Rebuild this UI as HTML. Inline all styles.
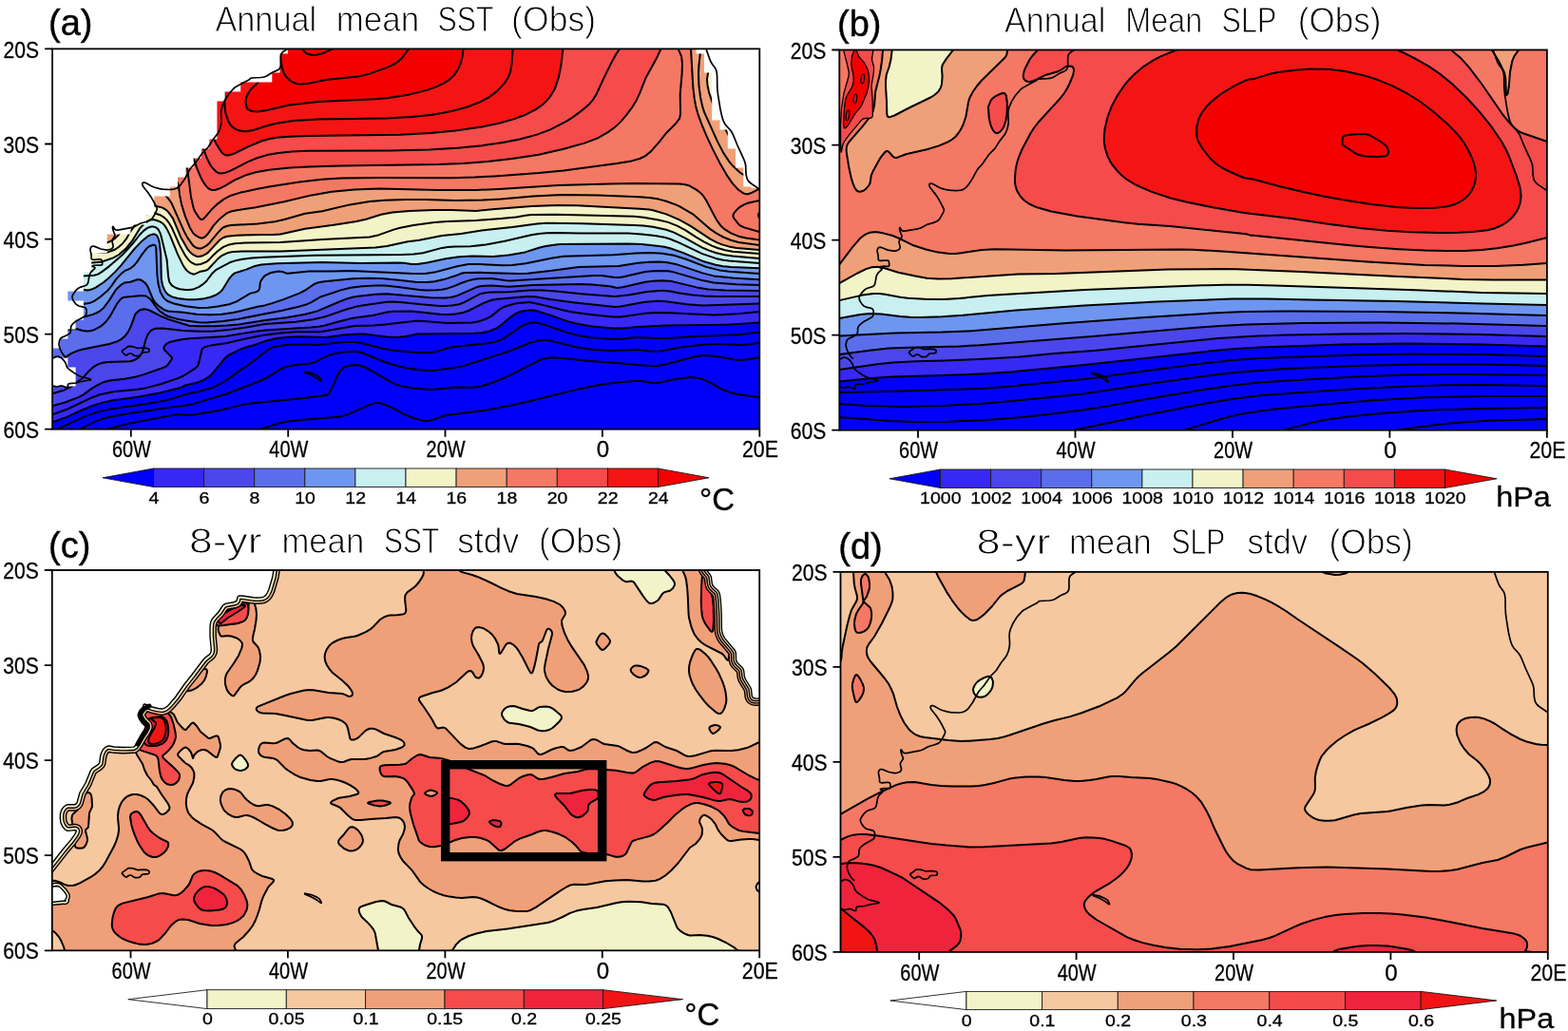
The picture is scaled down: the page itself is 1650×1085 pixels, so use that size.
<!DOCTYPE html>
<html lang="en"><head><meta charset="utf-8"><title>Figure</title>
<style>
html,body{margin:0;padding:0;background:#fff}
svg{display:block}
text{font-family:"Liberation Sans",sans-serif;fill:#000}
.tk{font-size:24.7px;stroke:#000;stroke-width:.3px}
.cb{font-size:17.3px;stroke:#000;stroke-width:.3px}
.ti{font-size:37px;stroke:#fff;stroke-width:.95px}
.pl{font-size:38px;stroke:#000;stroke-width:.4px}
.un{font-size:30px;stroke:#000;stroke-width:.3px}
.uc{font-size:33px}
.us{font-size:19px}
</style></head>
<body>
<svg width="1650" height="1085" viewBox="0 0 1650 1085">
<rect width="1650" height="1085" fill="#fff"/>
<clipPath id="ca"><rect x="55.1" y="51.4" width="744.2" height="400.3"/></clipPath>
<g clip-path="url(#ca)">
<rect x="55.1" y="51.4" width="744.2" height="400.3" fill="#f3f3c8"/>
<path fill="#0000fa" stroke="#0000fa" stroke-width="0.6" fill-rule="evenodd" d="M549.5,327.4 557.1,326.4 563.1,326.7 578.2,331.4 597.1,338.1 607.1,340.8 623.2,343.4 645.1,345.4 655.1,345.5 671.1,343.9 701.1,342.4 765.1,341.9 799.1,339.6 799.1,451.4 55.1,451.4 55.1,444.3 69.1,439.4 87.1,431.1 101.1,425.6 115.1,422 147.1,417.5 167.1,413.6 189.1,408.3 195.1,405.5 207.1,402.8 211.1,401.4 217.1,398.3 221.2,395.4 225,391.4 237.1,376.5 241.1,373.4 257.1,366 267.1,363.3 277.6,359.4 283.1,357.9 293.1,355.8 301.1,354.8 323.1,354.3 343.1,354.9 359.1,352.6 373.1,351.5 383.1,351.6 399.1,353.8 415.1,355 425.1,354.2 439.1,351.5 507.1,350.3 513.1,349.1 521.1,346.2 525.6,343.4 540.4,331.4 545.1,328.8 549.5,327.4Z"/>
<path fill="#3728f5" stroke="#3728f5" stroke-width="0.6" fill-rule="evenodd" d="M540.6,313.4 555.1,312 563.1,312.2 603.1,318.2 647.1,323 653.1,322.6 677.1,317.9 691.1,316.8 699.1,317.1 723.1,320.3 739.1,321.5 799.1,319.5 799.1,339.6 765.1,341.9 701.1,342.4 671.1,343.9 655.1,345.5 645.1,345.4 623.2,343.4 607.1,340.8 597.1,338.1 578.2,331.4 563.1,326.7 557.1,326.4 549.1,327.5 543.8,329.4 537.5,333.4 527.1,342.2 522.5,345.4 515.1,348.5 507.1,350.3 439.1,351.5 427.1,353.9 417.1,355 407.1,354.6 383.1,351.6 377.1,351.4 361.1,352.4 343.1,354.9 315.1,354.3 303.1,354.7 295.4,355.4 279.1,359 267.1,363.3 258.8,365.4 253.5,367.4 241.1,373.4 237.1,376.5 225,391.4 221.2,395.4 215.3,399.4 209.1,402.2 195.1,405.5 191.1,407.7 187.1,408.8 165.1,414.1 145.1,417.8 117.1,421.6 107.1,423.9 95.1,427.8 69.1,439.4 55.1,444.3 55.1,427.3 69.1,423.3 83.1,417.9 87.7,415.4 101.1,406.1 111.1,401.5 117.1,400.2 131.1,398.8 143.1,396.5 169.1,388.1 175,385.4 177,383.4 181.2,377.4 180.1,375.4 173.1,368.3 172.6,367.4 172.5,365.4 173.6,363.4 175.7,361.4 180.5,359.4 187.1,357.8 195.1,356.7 239.1,353.7 261.1,349.9 277.1,347.7 335.1,343.8 341.1,342.7 355.1,338.7 371.1,334.8 393.1,331.7 411.1,328 421.1,327.4 435.1,327.5 455.1,330.1 467.1,331 481.1,330.1 487.1,329 493.1,327 508,319.4 517.1,315.8 523.1,314.8 540.6,313.4Z"/>
<path fill="#4b46eb" stroke="#4b46eb" stroke-width="0.6" fill-rule="evenodd" d="M690.6,295.4 699.1,295.2 705.1,295.8 733.1,302.4 747.1,304.7 763.1,305.6 799.1,306 799.1,319.5 739.1,321.5 723.1,320.3 699.1,317.1 691.1,316.8 677.1,317.9 653.1,322.6 647.1,323 603.1,318.2 563.1,312.2 555.1,312 523.1,314.8 517.1,315.8 508,319.4 493.1,327 487.1,329 479.1,330.4 471.1,331 463.1,330.8 433.1,327.4 413.1,327.8 407.1,328.6 393.1,331.7 371.1,334.8 355.1,338.7 341.1,342.7 335.1,343.8 279.1,347.5 267.1,349 237.1,354 199.1,356.3 189.6,357.4 180.5,359.4 177.1,360.7 175.1,361.9 173.1,364.3 172.5,365.4 172.6,367.4 173.1,368.3 180.1,375.4 181.2,377.4 177,383.4 175,385.4 173.1,386.5 143.1,396.5 131.1,398.8 117.1,400.2 111.1,401.5 101.1,406.1 87.7,415.4 83.1,417.9 69.1,423.3 55.1,427.3 55.1,382.7 67.1,377.1 75.1,372 81.1,369.3 87.4,367.4 115.1,362 123.1,359.4 127,357.4 131.1,354.1 134.8,349.4 137.7,343.4 142.1,331.4 143.4,329.4 145.5,327.4 149.1,325.6 153.1,325.4 155.1,325.8 177.1,336 199.1,342.8 215.1,343.4 233.1,342.9 251.2,341.4 279.1,337.1 301.1,334.3 321.1,330.8 333.9,327.4 359.1,316.6 367.1,313.8 375.1,312 389.1,310.3 399.1,309.5 409.1,309.4 453.1,313.2 467.1,313.6 473.1,313.1 479.1,311.8 483.1,310.4 501.1,302.3 509.1,300.8 517.1,300.6 535.1,301.7 561.1,300 611.1,299 623.1,299.5 639.1,300.9 649.1,303 655.1,302.3 679.1,296.7 690.6,295.4Z"/>
<path fill="#5a6eeb" stroke="#5a6eeb" stroke-width="0.6" fill-rule="evenodd" d="M665.8,277.4 687.1,275.6 701.1,275.9 713.1,278.4 739.4,287.4 751.1,290.4 771.1,292.6 799.1,294.2 799.1,306 763.1,305.6 745.1,304.5 733.1,302.4 707.1,296.1 697.1,295.2 687.1,295.7 679.1,296.7 655.1,302.3 649.1,303 639.1,300.9 623.1,299.5 611.1,299 561.1,300 535.1,301.7 517.1,300.6 511.1,300.7 505.1,301.3 501.1,302.3 481.1,311.1 475.1,312.7 469.1,313.5 453.1,313.2 407.1,309.3 395.1,309.7 377.1,311.7 365.1,314.4 333.9,327.4 321.1,330.8 301.1,334.3 279.1,337.1 251.1,341.4 225.1,343.3 209.1,343.3 199.1,342.8 177.1,336 169.1,332.6 157.1,326.5 153.3,325.4 151.1,325.3 147.1,326.4 143.4,329.4 142.1,331.4 137.7,343.4 134.8,349.4 131.1,354.1 127,357.4 123.1,359.4 115.1,362 87.4,367.4 81.1,369.3 75.1,372 67.1,377.1 55.1,382.7 55.1,333.2 71.1,332.6 89.1,333.2 97.1,331.1 101.1,329.5 105.1,327.3 109.1,323.9 115.1,315.9 121.1,306.2 127.1,299.9 131.1,297.5 137.1,296.7 145.1,294 149.1,295 153.1,298.1 155.1,300.9 161.2,315.4 163.1,318.1 167.1,322.1 173.1,326.3 177.1,327.5 193.1,328.8 207.1,330.8 225.1,331.3 237.1,330.2 249.1,328.2 269.1,323.2 278.5,321.4 285.5,319.4 297.6,315.4 313.3,309.4 321.1,305.5 331.1,298.7 334.4,297.4 339.1,296.5 371.1,293.2 387.1,292.8 405.1,293.3 437.1,296.8 449.1,297.1 457.1,296.2 467.1,294.1 479.1,290.3 485.1,287.8 489.1,287.1 507.1,286.8 543.1,288 553.1,287.8 579.1,285.1 605.1,281.4 617.1,280.7 651.1,279.9 657.1,279.2 665.8,277.4Z"/>
<path fill="#6e96f0" stroke="#6e96f0" stroke-width="0.6" fill-rule="evenodd" d="M158,247.4 161.1,246.4 163.1,246.5 165.1,247.8 167.1,252.3 168.4,259.4 169.2,267.4 169.8,293.4 171.1,300.5 173.1,305.2 177.1,310.2 181.1,312.4 187.1,314 197.1,315.2 205.1,315.3 213.1,314.6 221.1,312.7 227.1,310.5 231.1,307.9 233.7,305.4 241.1,293.4 244.5,289.4 247.1,287.4 259.1,283.6 267.1,280.3 275.1,278.6 291.1,277.3 339.1,276 379.1,277 419.1,276.5 425.1,276.8 433.1,278 439.1,278.1 449.1,276.5 469.1,272.2 483.1,270.3 497.1,269.6 519.1,270 535.1,268.4 552.6,265.4 567.1,260.8 575.1,258.9 583.1,257.6 593.1,256.9 665.1,256.6 681.1,257.6 699.1,259.8 705.1,261.3 719.1,266.1 741.1,275.4 753.1,278.7 761.1,280.2 769.1,280.9 799.1,282.2 799.1,294.2 771.1,292.6 751.1,290.4 739.4,287.4 711.1,277.9 701.1,275.9 693.1,275.5 671.1,276.8 651.1,279.9 609.1,281.1 579.1,285.1 555.1,287.7 545.1,288 505.1,286.8 489.1,287.1 485.1,287.8 479.1,290.3 467.1,294.1 457.1,296.2 449.1,297.1 437.1,296.8 417.1,294.4 401.1,293.1 385.1,292.8 371.1,293.2 335.1,297.2 331.1,298.7 321.1,305.5 315.1,308.6 297.6,315.4 285.5,319.4 278.5,321.4 271.1,322.8 245.1,328.9 233.1,330.7 221.1,331.3 207.1,330.8 193.1,328.8 177.1,327.5 173.1,326.3 167.1,322.1 163.1,318.1 161.2,315.4 155.1,300.9 153.1,298.1 149.1,295 145.1,294 137.1,296.7 131.1,297.5 127.1,299.9 121.1,306.2 115.1,315.9 109.1,323.9 105.1,327.3 101.1,329.5 97.1,331.1 89.1,333.2 71.1,332.6 55.1,333.2 55.1,304.7 93.1,305.4 97.1,304.3 101.1,302.3 109.1,297 117.1,290.1 127.3,279.4 145.5,257.4 153.1,250.4 158,247.4Z"/>
<path fill="#c8f0f0" stroke="#c8f0f0" stroke-width="0.6" fill-rule="evenodd" d="M158.4,231.4 161.1,231.1 167.1,232.7 171.1,235 173.1,237.1 175.8,241.4 179.1,248.1 186.9,267.4 192.7,279.4 197.1,285.2 200.2,287.4 203.1,288.5 205.1,288.4 211.1,285.7 217.1,284.5 219.1,283.3 229.1,272.6 233.1,269.2 239.1,266.3 245.1,264.9 255.1,264.4 295.1,264.5 395.1,260.5 407.1,258.9 429.1,254.2 441.1,252.8 465.1,248.1 485.1,246.1 509.1,242.1 539.1,239.1 565.1,235.4 579.1,234.7 669.1,237 681.1,238 695.1,240.3 703.1,242.4 711.1,245.5 739.1,260.6 745.6,263.4 753.1,266 761.1,268 771.1,269.6 799.1,272 799.1,282.2 769.1,280.9 761.1,280.2 753.1,278.7 739.1,274.7 719.1,266.1 705.1,261.3 699.1,259.8 691.1,258.7 675.1,257.1 661.1,256.5 589.1,257.1 581.1,257.9 573.1,259.3 567.1,260.8 552.6,265.4 535.1,268.4 519.1,270 497.1,269.6 483.1,270.3 469.1,272.2 449.1,276.5 439.1,278.1 433.1,278 425.1,276.8 419.1,276.5 379.1,277 339.1,276 291.1,277.3 275.1,278.6 267.1,280.3 259.1,283.6 247.1,287.4 244.5,289.4 241.1,293.4 233.7,305.4 231.1,307.9 227.1,310.5 221.1,312.7 213.1,314.6 205.1,315.3 197.1,315.2 187.1,314 181.1,312.4 177.1,310.2 173.1,305.2 171.1,300.5 169.8,293.4 169.2,267.4 167.8,255.4 166.8,251.4 165.1,247.8 163.1,246.5 161.1,246.4 155.1,248.9 149.6,253.4 141.9,261.4 127.3,279.4 121.1,286.1 109.1,297 101.1,302.3 97.1,304.3 93.1,305.4 55.1,304.7 55.1,275.1 83.1,276.5 97.1,276.4 107.1,275.5 119.1,271.4 125.1,268 132.7,261.4 139.1,253.4 143.8,245.4 149.1,237.9 153.1,234.3 158.4,231.4Z"/>
<path fill="#f3f3c8" stroke="#f3f3c8" stroke-width="0.6" fill-rule="evenodd" d="M752,51.4 799.1,51.4 799.1,163.9 791.1,162.8 785.1,161 779.1,157.8 775.1,154.3 771.1,149.6 767.1,143.2 751.6,113.4 746.1,97.4 744.5,89.4 744,83.4 745.6,73.4 752,51.4ZM148.1,217.4 153.1,215.8 159.1,215.7 171.1,218.6 175.1,221.1 179.1,225.5 181.7,229.4 190.2,249.4 197.1,261.8 200.1,265.4 203.1,268 207.1,269.9 209.1,270.1 213.1,269.2 217.1,267.1 219.3,265.4 231.1,252.7 235.1,250 239.1,248.7 249.1,247.7 287.1,247 295.1,246.5 321.1,240.8 351.1,236.8 375.1,233 385.1,230.7 401.1,225.7 411.1,223.8 429.1,222.1 451.1,221.2 471.1,221 503.1,221.9 521.1,219.9 553.1,217.4 575.1,216.3 595.1,216 613.1,216.4 677.1,219.9 685.1,220.8 693.1,222.8 705.1,226.9 717.1,232.4 727.1,238.2 747.1,251.4 759.7,257.4 767,259.4 775.1,260.9 799.1,263 799.1,272 771.1,269.6 761.1,268 753.1,266 745.6,263.4 739.1,260.6 721.1,250.6 709.1,244.6 701.1,241.8 687.1,238.8 677.1,237.5 667.1,236.9 613.1,235.3 575.1,234.8 565.1,235.4 539.1,239.1 511.1,241.9 485.1,246.1 465.1,248.1 441.1,252.8 429.1,254.2 407.1,258.9 395.1,260.5 295.1,264.5 255.1,264.4 245.1,264.9 239.1,266.3 233.1,269.2 229.1,272.6 219.1,283.3 217.1,284.5 211.1,285.7 205.1,288.4 203.1,288.5 200.2,287.4 197.1,285.2 192.7,279.4 186.9,267.4 179.1,248.1 175.8,241.4 173.3,237.4 171.1,235 168.6,233.4 165.1,232 161.1,231.1 157.1,231.8 151.1,236 147.1,240.4 139.1,253.4 133.1,260.9 125.1,268 119.1,271.4 107.1,275.5 97.1,276.4 83.1,276.5 55.1,275.1 55.1,240 73.1,244.3 102.9,255.4 107.1,256.2 111.1,256 119.1,252.3 123.1,249.1 126.2,245.4 132.6,233.4 137.1,226.6 141.9,221.4 148.1,217.4Z"/>
<path fill="#f0a078" stroke="#f0a078" stroke-width="0.6" fill-rule="evenodd" d="M727,51.4 752,51.4 745.6,73.4 744,83.4 744.5,89.4 746.1,97.4 751.6,113.4 767.1,143.2 771.1,149.6 775.1,154.3 779.1,157.8 785.1,161 791.1,162.8 799.1,163.9 799.1,198.6 790,203.4 787.1,204.2 785.1,204.2 781.1,202.7 775.1,197.8 769.1,190.8 762,179.4 754.2,165.4 746.4,149.4 740.2,135.4 734.3,119.4 731,105.4 729.3,91.4 727,51.4ZM55.1,167.4 61.1,167.7 103.1,171.9 135.1,173.2 149.1,174.3 165.1,177.2 171.1,179 176.5,181.4 179.7,183.4 183.1,186.5 187.1,193 187.9,195.4 189.1,205.4 191.1,215.4 194.8,227.4 199.7,239.4 203.1,245.1 205.1,247.1 209.1,249.6 211.1,250.4 213.1,250.5 215.6,249.4 219.1,245.7 224.7,237.4 231.1,230.4 237.1,225.5 243.1,222.5 249.1,221.2 267.1,218.6 293.1,213.5 331.1,204.8 355.1,201.1 377.1,199.3 399.1,198.6 461.1,200 499.1,200 525.1,198.9 579.1,195.4 607.1,194.4 659.1,193 713.1,193.5 719.1,193.9 725.1,195.3 733.1,199.9 737.5,203.4 741,207.4 743.1,210.7 751.6,227.4 755.3,233.4 758.3,237.4 763.1,241.7 769.2,245.4 777.1,248.7 785.1,250.5 799.1,252.5 799.1,263 775.1,260.9 767,259.4 759.7,257.4 747.1,251.4 727.1,238.2 713.1,230.4 699.1,224.7 685.1,220.8 673.1,219.7 613.1,216.4 587.1,216 547.1,217.8 519.1,220.1 503.1,221.9 471.1,221 451.1,221.2 429.1,222.1 411.1,223.8 401.1,225.7 385.1,230.7 375.1,233 351.1,236.8 321.1,240.8 295.1,246.5 287.1,247 249.1,247.7 239.1,248.7 235.1,250 231.1,252.7 219.3,265.4 217.1,267.1 211.1,269.8 207.1,269.9 205.1,269.1 201.1,266.4 196.8,261.4 190.2,249.4 181.7,229.4 177.1,223.1 175.1,221.1 171.1,218.6 161.1,216 155.1,215.6 151.1,216.3 147.1,217.9 143.1,220.4 139.1,224.2 135.1,229.4 124.7,247.4 119.1,252.3 111.1,256 107.1,256.2 102.9,255.4 73.1,244.3 55.1,240 55.1,167.4Z"/>
<path fill="#f57864" stroke="#f57864" stroke-width="0.6" fill-rule="evenodd" d="M55.1,51.4 134.3,51.4 137.5,65.4 141.4,77.4 145.8,87.4 152.4,99.4 159.1,109.4 166.7,119.4 193.1,149.7 199.1,157.6 203.4,165.4 207.1,176.6 211.1,186.4 216.5,195.4 219.1,198.1 221.1,199.3 225.1,200.1 231.1,198.4 237.1,195.4 247.1,189.4 259.1,184.2 271.1,180.8 285.1,178.5 305.1,176.6 331.1,175.3 459.1,173 483.1,172.1 507.1,170.4 533.1,167.9 561.1,163.7 585.1,158.8 609.1,152.5 625.1,147.1 635.1,142.1 647.5,133.4 657.1,123.7 663.5,115.4 669.8,105.4 673.5,97.4 679.8,81.4 691.1,60.9 695.6,51.4 727,51.4 729.3,91.4 730.7,103.4 732.1,111.4 734.9,121.4 738.6,131.4 750.2,157.4 757.4,171.4 765.5,185.4 771.1,193.3 777.1,199.7 782.4,203.4 785.1,204.2 787.1,204.2 791.1,202.9 799.1,198.6 799.1,223.6 798.1,225.4 798.1,227.4 799.1,229.5 799.1,252.5 785.1,250.5 777.1,248.7 769.2,245.4 762.7,241.4 758.3,237.4 754,231.4 743.1,210.7 739.5,205.4 733.1,199.9 725.3,195.4 721.1,194.2 715.1,193.6 667.1,193 641.1,193.4 587.1,195.1 501.1,200 461.1,200 399.1,198.6 373.1,199.6 349.1,201.8 328,205.4 299.1,212.2 269.1,218.2 249.1,221.2 243.1,222.5 237.1,225.5 231.1,230.4 224.7,237.4 219.1,245.7 215.6,249.4 213.1,250.5 211.1,250.4 209.1,249.6 205.1,247.1 203.1,245.1 199.7,239.4 194.8,227.4 191.1,215.4 189.1,205.4 187.9,195.4 187.1,193 183.1,186.5 179.7,183.4 176.5,181.4 171.1,179 165.1,177.2 149.1,174.3 137.1,173.3 101.1,171.8 55.1,167.1 55.1,51.4Z"/>
<path fill="#f54b4b" stroke="#f54b4b" stroke-width="0.6" fill-rule="evenodd" d="M134.3,51.4 209.3,51.4 210.4,73.4 212.2,91.4 215.3,111.4 219,127.4 223.8,143.4 227.5,151.4 233.1,160.1 235.1,162.1 237.1,163.2 239.1,163.4 243.1,162.8 247.1,161.4 261.1,154.4 275.1,148.5 283.1,146.2 291.1,144.8 305.1,143.7 325.1,142.9 421.1,141.7 445.1,140.7 467.1,138.9 487.1,136.5 507.6,133.4 525.1,129.8 541.1,125.2 557.1,118.9 567.1,113.1 571.9,109.4 575.9,105.4 579.1,101.4 582.9,95.4 586.7,85.4 590,71.4 592.4,51.4 695.6,51.4 691.1,60.9 679.8,81.4 673.5,97.4 669.8,105.4 664.9,113.4 659,121.4 649.7,131.4 639.4,139.4 629,145.4 615.1,150.6 593.1,156.8 567.1,162.7 539.1,167.1 513.1,169.9 487.1,171.9 461.1,173 325.1,175.5 305.1,176.6 283.1,178.8 269.1,181.2 259.1,184.2 247.1,189.4 237.1,195.4 231.1,198.4 225.1,200.1 221.1,199.3 219.1,198.1 216.5,195.4 211.1,186.4 207.1,176.6 203.4,165.4 199.1,157.6 193.1,149.7 166.7,119.4 159.1,109.4 152.4,99.4 145.8,87.4 141.4,77.4 137.5,65.4 134.3,51.4ZM798.1,225.4 799.1,223.6 799.1,229.5 798.1,227.4 798.1,225.4Z"/>
<path fill="#f51414" stroke="#f51414" stroke-width="0.6" fill-rule="evenodd" d="M209.3,51.4 267.8,51.4 269.5,65.4 272.4,81.4 272.4,85.4 271.1,87.3 265.1,92.7 261.6,97.4 259.1,102.7 258.5,107.4 259.6,113.4 261.1,115.5 265.1,117 271.1,117.4 281.1,116 303.1,110.8 335.1,107 395.1,104.3 409.1,103.1 431,99.4 449.1,94.9 459,91.4 467.4,87.4 473.5,83.4 477.7,79.4 481.8,73.4 484.4,67.4 486.6,59.4 487.6,51.4 592.4,51.4 590.3,69.4 587.9,81.4 583.9,93.4 579.1,101.4 575.9,105.4 571.9,109.4 563.6,115.4 553.1,120.7 540.6,125.4 525.1,129.8 507.1,133.5 479.1,137.5 453.1,140.1 421.1,141.7 325.1,142.9 305.1,143.7 291.1,144.8 283.1,146.2 275.1,148.5 261.1,154.4 247.1,161.4 243.1,162.8 239.1,163.4 237.1,163.2 235.1,162.1 233.1,160.1 227.5,151.4 223.8,143.4 219,127.4 215.3,111.4 212.2,91.4 210.4,73.4 209.3,51.4Z"/>
<path fill="#f50000" stroke="#f50000" stroke-width="0.6" fill-rule="evenodd" d="M267.8,51.4 487.6,51.4 486.6,59.4 484.4,67.4 481.8,73.4 477.7,79.4 473.5,83.4 467.4,87.4 459,91.4 449.1,94.9 431,99.4 409.1,103.1 395.1,104.3 335.1,107 303.1,110.8 281.1,116 271.1,117.4 265.1,117 261.1,115.5 259.6,113.4 258.5,107.4 259.1,102.7 261.6,97.4 265.1,92.7 271.1,87.3 272.4,85.4 272.4,81.4 269.5,65.4 267.8,51.4Z"/>
<path fill="none" stroke="#000" stroke-width="2.0" stroke-linejoin="round" stroke-linecap="round" d="M799.1,418 779.1,415.6 769.1,413.3 759.1,409.6 748.8,403.4 739.8,399.4 732.9,397.4 725.1,397 709.1,399.2 697.1,401.9 691.1,402.9 687.1,402.9 675.1,401.1 669.1,401 651.1,402.3 629.1,405.2 608.8,409.4 557.1,422.3 537.1,426.8 509.1,432.1 471.1,436.8 465.1,438.2 455.1,442.1 451.1,442.9 447.1,442.9 443.1,442.3 435.1,439.9 427.1,436.8 413.1,429.4 405.1,425.9 401.1,424.5 397.1,424 393.1,424.5 390.4,425.4 367.1,435.6 359.1,438.2 353.1,439.1 319.1,441.8 301.1,443.8 291.1,446 274.9,451.4M799.1,376 787.1,378.3 779.1,379 773.1,378.4 763.1,376.5 749.1,374.5 739.1,374.1 729.1,375.8 699.1,383.7 691.1,384.9 685.1,385.1 675.1,384.5 649.1,381.9 621.1,380.1 593.1,376.9 583.1,376.2 577.1,376.5 572.5,377.4 567.1,379.4 537.1,394.7 529.1,398.4 517.1,403 507.1,406.2 499.1,407.7 479.1,407.6 455.1,410 445.1,409.6 435.1,408.5 425.1,406.9 417.1,404.9 411.1,402.2 393.1,391.4 383.1,386.2 377.1,384.3 371.1,384.2 367.1,384.8 363.1,386.2 361,387.4 358.8,389.4 354.8,395.4 351.7,403.4 347.8,411.4 345.1,414.9 343.1,416.1 319.1,419.1 261.1,424.8 253.1,426.4 229.1,432.2 203.1,436.6 197.1,437.1 191.1,436 181.1,437.1 167.8,439.4 133.1,446.3 113.5,451.4M799.1,361 787.1,362.6 781.1,363 755.1,362 741.1,362.5 719.1,365.1 695.1,369.4 687.1,370 671.1,368.1 643.1,369 625.1,367.9 607.1,365.5 579.1,358.6 575.1,358.1 569.1,358.1 565.1,358.7 559.1,360.3 535.1,369.7 489.1,384.6 481.1,386.5 455.1,390 447.1,389.8 439.1,389 429.1,387.6 419.1,385.5 407.1,381.7 397.1,378 383.1,372 377.1,370.3 371.1,369.8 361.1,370.6 353.1,372 347.1,373.5 342.4,375.4 331.1,381.3 329.1,382 323.1,383 309.1,384.3 301.1,386 297.1,387.6 291.1,390.8 281.1,397.4 273.1,401 239.1,414.3 205.1,424.6 197.1,426.5 185.1,427.7 133.6,435.4 115.1,438.7 109.1,440.3 103.1,442.4 93.1,446.9 84.1,451.4M799.1,349.6 777.1,352.2 731.1,353.9 705.1,355.8 695.1,356 671.1,355 665.1,355.3 653.1,356.9 641.1,356.7 623.1,355.3 609.1,353.3 597.1,350.1 573.1,341.9 565.1,339.8 561.1,339.3 555.1,340.4 551.1,341.9 547.1,344.2 531.2,355.4 525.1,358.3 521.1,359.7 513.1,361.2 477.1,364.9 471.1,366.2 459.1,370.1 455.1,370.7 447.1,371 435.1,370.8 415.1,369 403.1,367 379.1,360.7 373.1,360 365.1,359.9 355.1,360.5 335.1,363 315.1,362.4 305.1,362.7 296.9,363.4 287.5,365.4 282.8,367.4 265.1,381.2 239.1,399.4 229.1,405.4 223.1,408 209.1,412.1 195.1,415 183.1,419.1 173.9,421.4 157.1,424.5 119.1,430.1 105.1,433 97.1,435.4 89.1,438.4 61.1,451.4M799.1,339.6 765.1,341.8 701.1,342.4 671.1,343.9 655.1,345.5 645.1,345.4 623.2,343.4 607.1,340.8 597.1,338.1 578.2,331.4 563.1,326.7 561.1,326.4 557.1,326.4 549.1,327.5 543.8,329.4 537.5,333.4 527.1,342.2 522.5,345.4 515.1,348.5 507.1,350.3 499.1,350.8 439.1,351.5 427.1,353.9 417.1,355 407.1,354.6 383.1,351.6 377.1,351.4 361.1,352.4 343.1,354.9 315.1,354.3 303.1,354.7 295.4,355.4 289.1,356.5 279.1,359 267.1,363.3 258.8,365.4 253.5,367.4 241.1,373.4 237.1,376.5 225,391.4 221.2,395.4 215.3,399.4 209.1,402.2 195.1,405.5 191.1,407.7 187.1,408.8 165.1,414.1 145.1,417.8 117.1,421.6 107.1,423.9 95.1,427.8 85.1,432 69.1,439.4 55.1,444.3M799.1,328 779.1,330.1 751.1,331.6 705.1,329.3 689.1,329 679.1,329.8 653.1,333.4 645.1,333.5 621.1,331 601.1,328.2 593.1,326.5 567.1,319.9 557.1,318 543.1,319.3 533.1,322 529.6,323.4 526.1,325.4 517.1,332.6 513.1,334.9 505.1,337.9 497.1,339.6 471.1,340.1 443.1,337.8 437.1,337.8 405.1,341.5 393.1,342.4 373.1,343.1 337.1,349.2 311.1,349.3 295.1,350.6 277.1,352.8 263.3,355.4 239.1,360.9 222,363.4 215,365.4 212.6,367.4 208.8,383.4 207.8,385.4 205.1,387.9 193.1,395.5 187.1,398.1 169.1,404.3 153.1,408.4 145.1,409.7 119.1,412.3 105.1,415.3 97.1,418.2 71.1,430.5 55.1,436.3M799.1,319.5 739.1,321.5 723.1,320.3 699.1,317.1 691.1,316.8 677.1,317.9 653.1,322.6 647.1,323 603.1,318.2 579.1,314.9 563.1,312.2 555.1,312 523.1,314.8 517.1,315.8 508,319.4 493.1,327 487.1,329 479.1,330.4 471.1,331 463.1,330.8 433.1,327.4 413.1,327.8 407.1,328.6 393.1,331.7 371.1,334.8 355.1,338.7 341.1,342.7 335.1,343.8 327.1,344.6 279.1,347.5 267.1,349 237.1,354 199.1,356.3 189.6,357.4 180.5,359.4 177.1,360.7 175.1,361.9 173.1,364.2 172.5,365.4 172.6,367.4 173.1,368.3 180.1,375.4 181.2,377.4 177,383.4 175,385.4 173.1,386.5 151.1,394.1 143.1,396.5 131.1,398.8 117.1,400.2 111.1,401.5 107.1,403 101.1,406.1 95.1,409.9 87.7,415.4 83.1,417.9 69.1,423.3 55.1,427.3M799.1,312 753.1,312 741.1,311.6 729.1,310.6 715.1,308.5 705.1,306.5 697.1,305.8 681.1,306.9 661.1,310.6 647.1,312.1 614.4,309.4 585.1,306.4 571.1,305.5 557.1,305.6 535.1,307.3 517.1,307.5 511.1,308 505.1,309.4 487.1,318.8 483.1,320.2 477.1,321.3 469.1,322 463.1,321.9 443.1,320.3 421.1,317.9 413.1,317.5 407.1,317.8 381.1,321.6 373.1,323.1 363.1,326 341.1,333.6 329.1,336.3 311.1,338.7 279.1,341.1 259.1,344.6 241.1,347 225.1,348.4 211.1,348.7 193.1,347.9 171.1,345.6 163.1,345.8 159.1,347.6 155.9,351.4 153.3,357.4 150.8,367.4 149.4,371.4 147.1,375 144.1,377.4 141.1,379 137.1,380.2 113.1,380.9 107.1,382 103.2,383.4 99.6,385.4 96.9,387.4 93.1,390.9 87.6,397.4 81.1,402 74.4,407.4 67.1,410.7 55.1,414.2M799.1,306 763.1,305.6 745.1,304.5 733.1,302.4 707.1,296.1 697.1,295.2 687.1,295.7 679.1,296.7 655.1,302.3 649.1,303 643.1,301.5 639.1,300.9 623.1,299.5 611.1,299 561.1,300 535.1,301.7 517.1,300.6 511.1,300.7 505.1,301.3 501.1,302.3 481.1,311.1 475.1,312.7 469.1,313.5 453.1,313.2 407.1,309.3 395.1,309.7 377.1,311.7 371.1,312.8 365.1,314.4 357.1,317.5 333.9,327.4 321.1,330.8 301.1,334.3 279.1,337.1 251.1,341.4 239.1,342.6 225.1,343.3 209.1,343.3 199.1,342.8 177.1,336 169.1,332.6 157.1,326.5 153.3,325.4 151.1,325.3 147.1,326.4 143.4,329.4 142.1,331.4 137.7,343.4 134.8,349.4 131.1,354.1 127,357.4 123.1,359.4 115.1,362 87.4,367.4 81.1,369.3 75.1,371.9 67.1,377.1 55.1,382.7M799.1,300 775.1,299.3 751.1,297.6 739.1,295.1 707.1,285.9 703.1,285.2 697.1,285 687.1,285.3 679.1,286.1 655.1,291.4 651.1,291.9 647.1,291.9 633.1,290.1 625.1,290.1 537.1,295.6 533.1,295.3 517.1,293.1 503.1,293.3 497.1,294.2 492.6,295.4 485.1,298 477.1,301.4 471.1,303.4 465.1,304.7 459.1,305.2 447.1,305.4 441.1,305.1 419.1,301.9 405.1,300.6 395.1,300.6 381.1,301.3 369.1,302.7 358.6,305.4 337.1,312.5 327.1,318.4 323.1,320.2 311.1,323.6 297.1,326.7 251.1,335.7 235.1,338 217.1,339.5 209.1,339.2 196.3,337.4 185.6,335.4 177.1,333 173.8,331.4 168,327.4 165.1,324.2 159.1,316 157.1,313.9 153.1,311.4 149.1,311 131.1,312.7 129.1,313.3 127.1,314.6 123.1,319.7 115.4,333.4 111.1,339 106,343.4 99.1,347.1 95.1,348.3 91.1,348.6 87.1,348 81.1,346.3 77.1,346 55.1,350.2M799.1,294.2 771.1,292.6 751.1,290.4 739.4,287.4 711.1,277.9 701.1,275.9 693.1,275.5 683.1,275.8 671.1,276.8 651.1,279.9 609.1,281.1 579.1,285.1 555.1,287.7 545.1,288 505.1,286.8 489.1,287.1 485.1,287.8 479.1,290.3 467.1,294.1 457.1,296.2 449.1,297.1 437.1,296.8 417.1,294.4 401.1,293.1 385.1,292.8 371.1,293.2 341.1,296.2 335.1,297.2 331.1,298.7 321.1,305.5 315.1,308.6 297.6,315.4 285.5,319.4 278.5,321.4 271.1,322.8 253.1,327.3 245.1,328.9 233.1,330.7 221.1,331.3 207.1,330.8 193.1,328.8 177.1,327.5 173.1,326.3 167.1,322.1 163.1,318.1 161.2,315.4 155.1,300.9 153.1,298.1 149.1,295 147.1,294.2 145.1,294 137.1,296.7 131.1,297.5 127.1,299.9 123.1,303.7 121.1,306.2 115.1,315.9 109.1,323.9 105.1,327.3 101.1,329.5 97.1,331.1 89.1,333.2 71.1,332.6 55.1,333.2M799.1,288 767.1,285.7 757.1,284.4 743.1,280.9 721.1,272.5 709.1,268.8 697.1,266.8 685.1,266.1 669.1,266.5 645.1,268.2 593.1,269.7 581.4,271.4 553.1,277.2 539.1,279.1 529.1,279.2 503.1,277.9 493.1,278.1 481.1,280.2 457.1,286.6 447.1,287.9 435.1,287.9 369.1,285 349.1,285.6 325.1,285.6 303.1,287.7 301.1,287.5 297.1,285.9 293.1,285.5 285.1,287 280,289.4 277.5,291.4 274.7,295.4 273.8,297.4 273.2,303.4 272.3,305.4 271.1,306.4 269.1,307.4 263.1,308.9 248.9,317.4 241.1,320.2 229.1,322.6 219.1,323.8 209.1,323.9 195.1,322.2 183.1,319.5 177.1,317.3 174.2,315.4 172.2,313.4 168.8,307.4 166.7,299.4 165.4,289.4 164.3,261.4 163.9,259.4 163.1,257.9 161.1,257.7 157.1,259.3 155.1,260.7 149.7,267.4 144.4,275.4 141,279.4 137.1,282.6 131.1,285.2 128.3,287.4 122.5,293.4 117,301.4 113.1,306 105.1,312.7 99.1,316.9 95.1,318.7 87.1,320.1 55.1,319M799.1,282.2 769.1,280.9 761.1,280.2 753.1,278.7 739.1,274.7 719.1,266.1 705.1,261.3 699.1,259.8 691.1,258.7 675.1,257.1 661.1,256.5 589.1,257.1 581.1,257.9 573.1,259.3 567.1,260.8 552.6,265.4 535.1,268.4 519.1,270 497.1,269.6 483.1,270.3 469.1,272.2 449.1,276.5 439.1,278.1 433.1,278 425.1,276.8 419.1,276.5 379.1,277 339.1,276 291.1,277.3 275.1,278.5 267.1,280.3 259.1,283.6 247.1,287.4 244.5,289.4 241.1,293.4 233.7,305.4 231.1,307.9 227.1,310.5 221.1,312.7 213.1,314.6 205.1,315.3 197.1,315.2 187.1,314 181.1,312.4 177.1,310.2 175.1,308.2 173.1,305.2 171.1,300.5 169.8,293.4 169.2,267.4 167.8,255.4 166.8,251.4 165.1,247.8 163.1,246.5 161.1,246.4 158,247.4 155.1,248.9 149.6,253.4 141.9,261.4 127.3,279.4 121.1,286.1 115.1,291.9 109.1,297 101.1,302.3 97.1,304.3 93.1,305.4 87.1,305 55.1,304.7M799.1,277 767.1,274.5 761.1,273.7 753.1,271.9 739.1,267.1 714.5,255.4 705.1,251.5 699.1,249.8 689.1,248.1 675.1,246.4 661.1,245.6 609.1,245.6 585.1,245 575.1,245.2 567.1,245.9 559.1,247.2 531.1,253.8 511.1,257.5 495.1,259.3 479.1,259.4 471.1,259.9 465.1,260.9 445.1,266.2 435.1,267.4 423.1,267.9 331.1,268.7 277.1,270.7 265.1,271.5 255.1,272.7 249.1,273.9 243.1,275.7 227.1,284.2 223.6,287.4 217.1,296 213.2,299.4 209.1,302.1 203.1,304.6 199.1,305.1 195.1,305 189.1,304.2 185.1,303 181.1,300.6 178.6,297.4 177.9,295.4 177.1,290.8 175.6,273.4 169.8,249.4 168.6,245.4 166.6,241.4 164.3,239.4 161.1,238.4 159.1,238.5 155.1,239.9 151.1,242.9 147.1,247 140.5,255.4 135.3,261.4 129.1,267.9 115.1,280.1 107.1,286.1 103.1,288.6 99.1,289.7 87.1,290.4 55.1,290.1M799.1,272 771.1,269.6 761.1,268 753.1,266 745.6,263.4 739.1,260.6 721.1,250.6 709.1,244.6 701.1,241.8 687.1,238.8 677.1,237.5 667.1,236.9 613.1,235.3 575.1,234.8 565.1,235.4 539.1,239.1 511.1,241.9 485.1,246.1 465.1,248.1 441.1,252.8 429.1,254.2 407.1,258.9 395.1,260.5 295.1,264.5 255.1,264.4 245.1,264.9 239.1,266.3 233.1,269.2 229.1,272.6 219.1,283.3 217.1,284.5 211.1,285.7 205.1,288.4 203.1,288.5 200.2,287.4 197.1,285.2 195.1,283 192.7,279.4 186.9,267.4 179.1,248.1 175.8,241.4 173.3,237.4 171.1,235 168.6,233.4 165.1,232 161.1,231.1 159.1,231.2 157.1,231.8 151.1,236 147.1,240.4 139.1,253.4 133.1,260.9 125.1,268 119.1,271.4 107.1,275.5 97.1,276.4 83.1,276.5 55.1,275.1M799.1,267 771.1,264.7 763.1,263.3 755.1,261 749.1,258.6 741.1,254.6 732.2,249.4 721.1,242.2 713.1,237.9 703.1,233.9 693.1,231.5 677.1,228.7 667.1,227.8 585.1,225.8 559.1,226.1 553.1,226.7 543.1,228.6 527.1,230.1 501.1,231.9 471.1,232.9 457.1,234.1 435.1,237.1 421.1,239.8 415.1,241.4 398.1,247.4 388.7,249.4 339.1,252.1 295.1,255 259.1,255.5 247.1,256.2 241.1,257.4 235.1,259.9 229.1,264.3 225.1,267.9 220,273.4 217.1,275.6 211.1,278 207.1,278.5 205.1,278.2 201.1,276.1 198.3,273.4 195.1,269.2 188.7,257.4 180.7,239.4 178.4,235.4 175.4,231.4 173.1,229.1 169.1,226.5 163.1,224.5 161.1,224.2 157.1,224.4 155.1,225 151.1,227 149.1,228.5 146.2,231.4 143.1,235.4 137.4,243.4 133.1,251.1 129.1,256.2 125.1,259.7 121.1,262.5 113.1,265.6 111.1,266.1 109.1,266.1 93.1,264.3 55.1,259.1M752,51.4 745.6,73.4 744,83.4 744.5,89.4 746.1,97.4 751.6,113.4 767.1,143.2 771.1,149.6 775.1,154.3 779.1,157.8 785.1,161 791.1,162.8 799.1,163.9M799.1,263 775.1,260.9 767,259.4 759.7,257.4 754.8,255.4 747.1,251.4 727.1,238.2 715.1,231.4 701.1,225.4 687.1,221.3 683.1,220.5 673.1,219.7 607.1,216.2 587.1,216 559.1,217 521.1,219.9 501.1,222 475.1,221.1 457.1,221.1 431.1,221.9 413.1,223.5 401.1,225.7 385.1,230.7 375.1,233 351.1,236.8 321.1,240.8 295.1,246.5 287.1,247 275.1,247 249.1,247.7 239.1,248.7 235.1,250 231.1,252.7 219.3,265.4 217.1,267.1 213.1,269.2 209.1,270.1 207.1,269.9 203.1,268 200.1,265.4 197.1,261.8 190.2,249.4 181.7,229.4 177.1,223.1 175.1,221.1 171.1,218.6 161.1,216 155.1,215.6 151.1,216.3 147.1,217.9 143.1,220.4 139.1,224.2 135.1,229.4 131.1,236 127.1,243.8 124.7,247.4 121.1,250.9 119.1,252.3 115.1,254.4 111.1,256 107.1,256.2 102.9,255.4 96.7,253.4 81.1,247.1 73.1,244.3 65.1,242.1 55.1,240M737.4,51.4 735.4,69.4 735,77.4 735.4,89.4 737.1,102.6 739.1,111.9 741.1,118.1 755.1,149.1 761.1,160.6 767.1,169.8 771.1,174.6 779.1,181.9 784.9,185.4 787.1,186.1 791.1,186.3 799.1,185.3M799.1,258 777.1,255 769.1,252.7 761.1,249.5 753.6,245.4 747.8,241.4 729.1,225.3 715.4,217.4 711.1,215.4 701.1,211.8 693.1,209.6 685.1,208.3 673.1,207.2 629.1,205.5 591.1,205.1 561.1,206.5 527.1,209.5 507.1,210.6 479.1,211 447.1,210.1 427.1,210.1 405.1,210.7 389.1,212 368,215.4 339.1,222.2 321.1,224.8 299.1,231 289.1,233.2 271.1,235.4 243.1,237.1 239.1,237.7 235.1,239.3 233.1,240.9 229.1,245.1 220.6,255.4 217.1,258.7 213.1,260.9 211.1,261.5 209.1,261.6 205.1,260 203.1,258.3 197.1,249.9 193.7,243.4 181.1,215.1 179.1,211.6 175.1,206.6 173.1,204.9 167.1,201.8 159.1,200 155.1,199.8 149.1,200.1 141.1,202 133.1,205.7 127.1,210.1 122.1,215.4 119.4,219.4 117.4,223.4 113.1,235.4 111.1,237.8 109.1,238.2 107.1,237.5 105.1,236.2 91.5,225.4 83.1,220.5 77.1,218 71.1,215.9 55.1,212.2M727,51.4 729.3,91.4 730.7,103.4 732.1,111.4 734.9,121.4 738.6,131.4 743.6,143.4 750.2,157.4 757.4,171.4 765.5,185.4 771.1,193.4 777.1,199.7 782.3,203.4 785.1,204.2 787.1,204.2 791.1,202.9 799.1,198.6M799.1,252.5 785.1,250.5 777.1,248.7 769.2,245.4 762.7,241.4 758.3,237.4 754,231.4 743.1,210.7 739.5,205.4 737.1,203 733.1,199.9 725.3,195.4 721.1,194.2 715.1,193.6 667.1,193 641.1,193.4 587.1,195.1 525.1,198.9 501.1,200 461.1,200 399.1,198.6 373.1,199.5 349.1,201.8 328,205.4 299.1,212.2 269.1,218.2 249.1,221.2 243.1,222.5 239.1,224.2 237.1,225.5 231.1,230.4 224.7,237.4 219.1,245.7 215.6,249.4 213.1,250.5 211.1,250.4 209.1,249.6 205.1,247.1 203.1,245.1 199.7,239.4 194.8,227.4 191.1,215.4 189.1,205.4 187.9,195.4 187.1,193 185.1,189.2 183.1,186.5 179.7,183.4 176.5,181.4 171.1,179 165.1,177.2 157.1,175.5 149.1,174.3 137.1,173.3 101.1,171.8 55.1,167.1M713.6,51.4 717.1,59.3 718,67.4 717.6,77.4 715.7,99.4 716.1,119.4 715.1,124.7 711.1,130 701.1,140 693.7,149.4 684.9,159.4 679.1,164.1 673.1,167 664.6,169.4 649.1,172.1 593.1,179.5 567.1,182.1 520.5,185.4 499.1,186.6 475.1,187.3 399.1,187 359.1,187.6 339.1,188.8 315.1,191.6 283.1,196.5 271.1,198.7 253.1,202.6 243.1,205.7 235.9,209.4 227.9,215.4 223.6,219.4 215.1,229.3 213.1,231 211.1,230.7 209.1,228.6 205.1,222.5 203.8,219.4 201,207.4 197.1,177.4 194.9,173.4 189.1,167.3 181.1,161.3 171.1,155.3 134.2,135.4 93.1,112.6 83.1,107.7 75.1,104.4 65.1,100.9 55.1,97.9M799.1,244 783.2,239.4 779.1,237.5 776.8,235.4 773.1,230.7 772.1,229.4 771.4,227.4 771.8,225.4 773.1,223.2 776.7,219.4 779.4,217.4 782.9,215.4 787.7,213.4 799.1,211M695.6,51.4 691.1,60.9 679.8,81.4 673.5,97.4 669.8,105.4 664.9,113.4 659,121.4 653.8,127.4 649.7,131.4 645,135.4 639.4,139.4 629,145.4 615.1,150.6 593.1,156.8 567.1,162.7 539.1,167.1 513.1,169.9 487.1,171.9 461.1,173 357.1,174.6 325.1,175.5 305.1,176.6 283.1,178.8 269.1,181.2 259.1,184.2 247.1,189.4 237.1,195.4 231.1,198.4 227.1,199.8 225.1,200.1 223.1,200 221.1,199.3 219.1,198.1 216.5,195.4 213.1,190.2 211.1,186.4 207.1,176.6 203.4,165.4 199.1,157.6 193.1,149.7 166.7,119.4 159.1,109.4 152.4,99.4 145.8,87.4 141.4,77.4 137.5,65.4 134.3,51.4M799.1,229.5 798.1,227.4 798.1,225.4 799.1,223.6M652,51.4 648.1,57.4 644.7,63.4 635.8,81.4 627.5,99.4 623.7,105.4 621.1,108.4 615.8,113.4 610.8,117.4 602.7,123.4 596.5,127.4 579.1,136.4 565.1,141.6 547.1,146.5 529.1,150 507.1,153.2 481.1,155.8 451.1,157.4 411.1,158.4 323.1,158.8 307.1,159.6 293.1,160.9 281.1,163.1 269.1,166.8 261.1,170.2 241.1,180.3 237.1,181.7 233.1,182.5 231.1,182.3 229.1,181.6 227.1,180.3 223.1,176.1 221.1,173.2 217.3,165.4 213.7,155.4 200.3,129.4 192.9,113.4 186.7,97.4 182.6,83.4 179.7,69.4 177.3,51.4M592.4,51.4 590.3,69.4 587.9,81.4 583.9,93.4 579.1,101.4 575.9,105.4 571.9,109.4 563.6,115.4 553.1,120.7 540.6,125.4 525.1,129.8 507.1,133.5 479.1,137.5 453.1,140.1 421.1,141.7 325.1,142.9 305.1,143.7 291.1,144.8 283.1,146.2 275.1,148.5 261.1,154.4 247.1,161.4 243.1,162.8 239.1,163.4 237.1,163.2 235.1,162 233.1,160.1 227.5,151.4 223.8,143.4 219,127.4 215.3,111.4 212.2,91.4 210.4,73.4 209.3,51.4M539.6,51.4 538.5,67.4 537.1,75.4 534.9,81.4 531,87.4 523.6,95.4 515.1,102 505.1,107.4 491.1,112.7 477.1,116.5 465.1,119.1 453.1,121 433.1,123 407.1,124.6 335.1,125.5 309.1,127.1 299.1,128.4 289.1,130.3 281.1,132.3 267.1,136.7 261.1,137.9 257.1,138.2 251.1,137.3 247.1,135.4 244.3,133.4 242.5,131.4 240.2,127.4 237.5,119.4 236.6,113.4 236.2,97.4 238.3,69.4 238.7,51.4M487.6,51.4 486.6,59.4 484.4,67.4 481.8,73.4 477.6,79.4 473.5,83.4 467.4,87.4 459,91.4 449.1,94.9 431,99.4 409.1,103.1 395.1,104.3 335.1,107 303.1,110.8 281.1,116 271.1,117.4 265.1,117 261.1,115.5 259.6,113.4 258.5,107.4 259.1,102.7 261.6,97.4 265.1,92.7 271.1,87.3 272.4,85.4 272.4,81.4 269.5,65.4 267.8,51.4M430.1,51.4 422.6,61.4 419.1,64.6 415.1,67.3 406.4,71.4 387.1,78.1 377.1,80.5 347.1,83.6 339.1,84.8 325.1,87.8 317.1,88.5 313.1,88.2 309.1,87 305.1,84.7 301.1,80.8 299.1,77.4 297.1,72.4 292.6,51.4M350.2,51.4 339.1,56.3 333.1,57.7 329.1,58 325.1,57.3 321.1,55.4 318,51.4"/>
<path fill="#fff" d="M54.8,51.5 302.8,51.5 302.8,56.5 294.6,56.5 294.6,76.5 286.3,76.5 286.3,86.5 253.2,86.5 253.2,96.5 236.7,96.5 236.7,106.5 228.4,106.5 228.4,146.5 220.2,146.5 220.2,156.5 211.9,156.5 211.9,166.5 203.6,166.5 203.6,176.5 195.4,176.5 195.4,186.5 187.1,186.5 187.1,196.5 178.8,196.5 178.8,206.5 162.3,206.5 162.3,226.5 154,226.5 154,236.5 137.5,236.5 137.5,246.5 112.7,246.5 112.7,266.5 96.2,266.5 96.2,286.5 87.9,286.5 87.9,306.5 71.4,306.5 71.4,316.5 87.9,316.5 87.9,336.5 79.6,336.5 79.6,346.5 71.4,346.5 71.4,356.5 63.1,356.5 63.1,366.5 54.8,366.5Z"/>
<path fill="#fff" d="M54.8,376.5 71.4,376.5 71.4,386.5 79.6,386.5 79.6,406.5 54.8,406.5Z"/>
<path fill="#fff" d="M732.7,51.5 732.7,56.5 741,56.5 741,76.5 749.2,76.5 749.2,126.5 757.5,126.5 757.5,136.5 765.8,136.5 765.8,156.5 774,156.5 774,176.5 782.3,176.5 782.3,196.5 790.6,196.5 790.6,198 799,198 799,51.5Z"/>
<path fill="none" stroke="#000" stroke-width="1.7" stroke-linejoin="round" d="M302.4,51.5 298.9,53.7 297.2,55 296,57 295.5,60.1 295.6,67.9 295,71 293.5,72.9 291.5,74.1 287,76 280.6,80 278,81 274.8,81.5 265,82 263.7,82.4 262,84 256.1,86.9 248,91.4 246,93 241.8,97.6 239.8,100.2 236.4,105.8 233.8,111.8 233,115 232.7,118.5 233.1,125.7 233,129 231.9,134.4 230,139 228.7,141.1 224,147 219,155 213,161 206,171 201.5,176 200,178 194,189 190.4,194.1 188.3,196.3 186,198 183.3,199 180.2,199.4 177.1,199.5 171,199.1 167.9,198.6 162,197 159.2,195.7 153.9,192.7 152,192 150.8,192.1 150,192.7 149.8,193.7 150,195 151,196.7 156,203 159,207.4 161.1,211 165.1,218.9 165.2,219.7 165,221 164.2,223 161.4,228.1 160,230 158.8,231.2 157.6,231.9 153.4,233.5 148,235 142.2,238.1 140,239 137.6,239.7 125.6,241.8 123.6,242.1 122,242 120.8,241.3 119,238.5 118.7,238.4 118.4,239.3 118.7,241.1 120,245 121,247.2 121,248 118.6,251.6 118,253 118.1,254.7 119.1,258.5 119,260 118.2,261.1 117.1,262 114,263 112.2,263.1 106,262 99.6,259.4 98,259 96.8,259.3 95.9,259.9 95,262 95,263.3 96,268 96.2,272.1 97,273 98.9,273.3 104.1,272.9 106,273 106.9,273.5 107.3,274.3 107.7,277.7 107.5,278.5 107,279 106.1,279.2 102,279 99,279.4 97,280 97.4,280.4 99.6,281.3 100,282 99.4,282.9 96,286 94.8,287.9 94,290 93,296 92.4,298.2 91.9,299.1 91,300 89.4,300.8 84.9,302.1 83,303 81.5,304.1 79,306.7 76.5,310.4 76.1,311.7 76,313 76.4,314.5 77.1,316.1 79,319 80.8,320.8 83,322 88.6,323.3 90,324 90.7,325.1 91.1,326.4 91,329 90.6,331 90.1,332 89,333 80,338 77,340.4 75.9,341.6 75,343 74.5,344.7 74.4,348.5 74,350 73.3,351 70,353 65.3,355 64,356 63.1,357.3 62.5,358.8 62,362 62.2,363.7 63.3,367.3 64.9,370.7 67.1,373.9 68.6,375.6 70,376M56,377 58.9,375.2 60,375 61.2,375.1 63.8,376.2 65,377 67.2,379.3 69,382 70.3,385.8 71,387 73.1,389 79.7,393.6 84,396 86.6,396.8 94,398.5 95.6,399.3 95.5,399.7 95,400 88,401 80,403 73.5,403.6 72,404 71.4,404.9 71.4,407.4 71,408 69.8,407.9 66.5,406.4 65,406 63.7,406.1 60,407 58.9,406.9 56,406M128,369.5 133,366 134.4,364.7 136,364.4 140,364.8 145,366.5 150,366 154,366.3 156.4,367.1 156.8,367.5 157.1,368.6 156.7,370 156,370.5 150,371 149.1,371.6 147.8,373.4 147,374 145.9,374.4 143.2,374.6 142,374.5 140.9,374 138.9,372.5 138,372 137.2,371.9 135,372.5 133.5,373.8 133,374 131.5,373.2 130,372 128,369.5M320,391 327.4,392.4 333.4,395 335,396 336.2,397 337.6,399.2 338.2,401 337.9,401.1 337.4,401 332.4,397.4 327.6,394.8 320,391.7M743,51.5 746.7,61.9 748,65 749.5,67.5 752.8,71.9 754,75 754.6,79.3 754.7,89.8 755,95 755.6,100.1 758,115 759.7,122.6 760.7,125.9 762,129 763.8,131.7 768,136.3 770,139 771.6,142.1 776,153 782.4,166.8 784,171 784.7,174.5 785,183 785.9,187.2 786.6,189.1 788,191 790.2,193 799,199"/>
</g>
<rect x="55.1" y="51.4" width="744.2" height="400.3" fill="none" stroke="#000" stroke-width="1.8"/>
<path d="M47.1,51.4H55.1M47.1,151.5H55.1M47.1,251.6H55.1M47.1,351.6H55.1M47.1,451.7H55.1M137.8,451.7V459.7M303.2,451.7V459.7M468.5,451.7V459.7M633.9,451.7V459.7M799.3,451.7V459.7" stroke="#000" stroke-width="1.8" fill="none"/>
<text class="tk" x="3.5" y="60.5" textLength="37.6" lengthAdjust="spacingAndGlyphs">20S</text>
<text class="tk" x="3.5" y="160.6" textLength="37.6" lengthAdjust="spacingAndGlyphs">30S</text>
<text class="tk" x="3.5" y="260.7" textLength="37.6" lengthAdjust="spacingAndGlyphs">40S</text>
<text class="tk" x="3.5" y="360.7" textLength="37.6" lengthAdjust="spacingAndGlyphs">50S</text>
<text class="tk" x="3.5" y="460.8" textLength="37.6" lengthAdjust="spacingAndGlyphs">60S</text>
<text class="tk" x="117.9" y="481.3" textLength="41" lengthAdjust="spacingAndGlyphs">60W</text>
<text class="tk" x="283.3" y="481.3" textLength="41" lengthAdjust="spacingAndGlyphs">40W</text>
<text class="tk" x="448.6" y="481.3" textLength="41" lengthAdjust="spacingAndGlyphs">20W</text>
<text class="tk" x="627.8" y="481.3" textLength="13.4" lengthAdjust="spacingAndGlyphs">0</text>
<text class="tk" x="780.9" y="481.3" textLength="38" lengthAdjust="spacingAndGlyphs">20E</text>
<text class="ti" y="33.3" xml:space="preserve"><tspan x="226.4" textLength="106.8" lengthAdjust="spacingAndGlyphs">Annual</tspan> <tspan x="353.7" textLength="87.5" lengthAdjust="spacingAndGlyphs">mean</tspan> <tspan x="460.5" textLength="58.4" lengthAdjust="spacingAndGlyphs">SST</tspan> <tspan x="538.1" textLength="89" lengthAdjust="spacingAndGlyphs">(Obs)</tspan></text>
<text class="pl" x="51" y="37.2">(a)</text>
<path d="M108,502.8L161.5,493V512.5Z" fill="#0000fa" stroke="#1a1a1a" stroke-width="0.9" stroke-linejoin="miter"/>
<rect x="161.5" y="493" width="53.1" height="19.5" fill="#3728f5" stroke="#1a1a1a" stroke-width="0.9"/>
<rect x="214.6" y="493" width="53.1" height="19.5" fill="#4b46eb" stroke="#1a1a1a" stroke-width="0.9"/>
<rect x="267.7" y="493" width="53.1" height="19.5" fill="#5a6eeb" stroke="#1a1a1a" stroke-width="0.9"/>
<rect x="320.8" y="493" width="53.1" height="19.5" fill="#6e96f0" stroke="#1a1a1a" stroke-width="0.9"/>
<rect x="373.9" y="493" width="53.1" height="19.5" fill="#c8f0f0" stroke="#1a1a1a" stroke-width="0.9"/>
<rect x="427" y="493" width="53.1" height="19.5" fill="#f3f3c8" stroke="#1a1a1a" stroke-width="0.9"/>
<rect x="480.1" y="493" width="53.1" height="19.5" fill="#f0a078" stroke="#1a1a1a" stroke-width="0.9"/>
<rect x="533.2" y="493" width="53.1" height="19.5" fill="#f57864" stroke="#1a1a1a" stroke-width="0.9"/>
<rect x="586.3" y="493" width="53.1" height="19.5" fill="#f54b4b" stroke="#1a1a1a" stroke-width="0.9"/>
<rect x="639.4" y="493" width="53.1" height="19.5" fill="#f51414" stroke="#1a1a1a" stroke-width="0.9"/>
<path d="M746,502.8L692.5,493V512.5Z" fill="#f50000" stroke="#1a1a1a" stroke-width="0.9"/>
<text class="cb" x="156.4" y="530" textLength="10.9" lengthAdjust="spacingAndGlyphs">4</text>
<text class="cb" x="209.5" y="530" textLength="10.9" lengthAdjust="spacingAndGlyphs">6</text>
<text class="cb" x="262.6" y="530" textLength="10.9" lengthAdjust="spacingAndGlyphs">8</text>
<text class="cb" x="310.2" y="530" textLength="21.7" lengthAdjust="spacingAndGlyphs">10</text>
<text class="cb" x="363.3" y="530" textLength="21.7" lengthAdjust="spacingAndGlyphs">12</text>
<text class="cb" x="416.4" y="530" textLength="21.7" lengthAdjust="spacingAndGlyphs">14</text>
<text class="cb" x="469.5" y="530" textLength="21.7" lengthAdjust="spacingAndGlyphs">16</text>
<text class="cb" x="522.6" y="530" textLength="21.7" lengthAdjust="spacingAndGlyphs">18</text>
<text class="cb" x="575.7" y="530" textLength="21.7" lengthAdjust="spacingAndGlyphs">20</text>
<text class="cb" x="628.8" y="530" textLength="21.7" lengthAdjust="spacingAndGlyphs">22</text>
<text class="cb" x="681.9" y="530" textLength="21.7" lengthAdjust="spacingAndGlyphs">24</text>
<text class="un uc" x="736" y="536.8">°C</text>
<clipPath id="cb"><rect x="883.3" y="52.5" width="744.6" height="400.2"/></clipPath>
<g clip-path="url(#cb)">
<rect x="883.3" y="52.5" width="744.6" height="400.2" fill="#f3f3c8"/>
<path fill="#0000fa" stroke="#0000fa" stroke-width="0.6" fill-rule="evenodd" d="M1419.2,362.5 1467.3,361.7 1507.3,361.7 1571.3,362.6 1627.3,364.4 1627.3,452.5 883.3,452.5 883.3,401.6 923.3,397.6 939.3,396.4 1019.3,394 1069.3,390.9 1141.3,383.9 1229.3,374.1 1297.3,367.3 1339.3,364.9 1419.2,362.5Z"/>
<path fill="#3728f5" stroke="#3728f5" stroke-width="0.6" fill-rule="evenodd" d="M1351.1,352.5 1427.3,351.2 1493.3,351.1 1559.3,352 1627.3,354 1627.3,364.4 1559.3,362.4 1479.3,361.6 1413.3,362.6 1325.3,365.5 1297.3,367.3 1269.3,369.9 1141.3,383.9 1065.3,391.3 1015.3,394.2 939.3,396.4 923.3,397.6 883.3,401.6 883.3,389 931.3,382.3 951.3,380.8 1009.3,378.9 1069.3,375.8 1109.3,372.1 1151.3,368.9 1283.3,355.9 1311.3,353.9 1351.1,352.5Z"/>
<path fill="#4b46eb" stroke="#4b46eb" stroke-width="0.6" fill-rule="evenodd" d="M1344.4,340.5 1413.3,339.5 1479.3,339.6 1559.3,341 1627.3,343 1627.3,354 1559.3,352 1479.3,351 1413.3,351.4 1323.3,353.4 1281.3,356.1 1151.3,368.9 1109.3,372.1 1073.3,375.5 1035.3,377.7 939.3,381.5 923.3,383.2 883.3,389 883.3,373 929.3,367.1 945.3,366 1005.3,364.6 1029.3,363.5 1149.3,354.1 1215.3,348.2 1269.3,344 1309.3,341.6 1344.4,340.5Z"/>
<path fill="#5a6eeb" stroke="#5a6eeb" stroke-width="0.6" fill-rule="evenodd" d="M1295.9,328.5 1341.3,327.5 1441.3,327.9 1535.3,329.4 1627.3,332 1627.3,343 1535.3,340.5 1453.3,339.4 1371.3,340 1311.3,341.5 1283.3,343 1243.3,346 1149.3,354.1 1031.3,363.3 1009.3,364.4 935.3,366.5 917.3,368.5 883.3,373 883.3,353.6 941.3,350.5 991.3,349.6 1019.3,348.4 1115.3,340.6 1175.3,336.2 1257.3,330.6 1295.9,328.5Z"/>
<path fill="#6e96f0" stroke="#6e96f0" stroke-width="0.6" fill-rule="evenodd" d="M1303.5,314.5 1333.3,314.5 1471.3,317 1561.3,319.6 1627.3,321 1627.3,332 1547.3,329.7 1453.3,328 1355.3,327.5 1309.3,328 1269.3,329.9 1201.3,334.3 1119.3,340.3 1019.3,348.4 991.3,349.6 941.3,350.5 883.3,353.6 883.3,335 909.3,330.4 915.3,330 923.3,330.2 949.3,333.2 959.3,333.8 985.3,333.4 1011.3,331.9 1069.3,326.5 1141.3,321.5 1229.3,317 1303.5,314.5Z"/>
<path fill="#c8f0f0" stroke="#c8f0f0" stroke-width="0.6" fill-rule="evenodd" d="M1259.3,300.5 1289.3,299.7 1327.3,300 1489.3,305.2 1559.3,308 1627.3,309 1627.3,321 1561.3,319.6 1469.3,316.9 1333.3,314.5 1297.3,314.6 1217.3,317.6 1141.3,321.5 1069.3,326.5 1013.3,331.7 991.3,333.2 969.3,333.9 957.3,333.8 927.3,330.6 915.3,330 905.3,331 883.3,335 883.3,316.1 907.3,310.6 915.3,309.4 921.3,309 927.3,309.3 947.3,312.8 959.3,314 979.3,315 993.3,315 1009.3,314 1055.3,309.9 1141.3,305 1259.3,300.5Z"/>
<path fill="#f3f3c8" stroke="#f3f3c8" stroke-width="0.6" fill-rule="evenodd" d="M938.7,52.5 1003.1,52.5 995.3,62.6 991.6,68.5 991,72.5 991.6,80.5 991,88.5 989.8,92.5 987.3,96.5 983.3,100 979.3,102.5 954.6,114.5 941.3,121.5 935.3,123.2 933.9,122.5 933.3,120 932.1,84.5 932.8,78.5 935.6,70.5 937.5,62.5 938.7,52.5ZM912.7,282.5 919.3,280.9 923.3,280.7 927.3,281.3 941.3,285.8 962.6,290.5 975.3,292.7 987.3,293.6 1001.3,293.2 1071.3,288.6 1111.3,288 1229.3,283.6 1283.3,283 1301.3,283.2 1369.3,285.9 1471.3,291.1 1539.3,293.9 1571.3,294.5 1627.3,294.4 1627.3,309 1559.3,308 1489.3,305.2 1341.3,300.4 1289.3,299.7 1141.3,305 1055.3,309.9 1009.3,314 993.3,315 973.3,314.8 955.3,313.7 947.3,312.8 931.3,309.8 925.3,309.1 919.3,309 907.3,310.6 883.3,316.1 883.3,298.1 905.3,285.9 912.7,282.5Z"/>
<path fill="#f0a078" stroke="#f0a078" stroke-width="0.6" fill-rule="evenodd" d="M929,52.5 938.7,52.5 937.5,62.5 935.6,70.5 932.8,78.5 932.1,84.5 933.3,120 933.9,122.5 935.3,123.2 941.3,121.5 954.6,114.5 979.3,102.5 983.3,100 987.3,96.5 989.8,92.5 991,88.5 991.6,80.5 991,72.5 991.6,68.5 995.3,62.6 1003.1,52.5 1060,52.5 1059.6,56.5 1057.6,60.5 1033.1,84.5 1028,90.5 1023.8,96.5 1020.6,102.5 1019.2,106.5 1016.4,122.5 1013.8,130.5 1010.9,136.5 1005.3,144 1001.3,147.2 997.3,149.5 987.3,153.6 975.3,157.3 953.3,162.2 943.3,166.1 941.3,165.8 939.4,164.5 935.3,159.7 933.3,158.9 931.3,159.9 925.3,168 918.5,180.5 916.8,184.5 915.6,192.5 914.7,194.5 911.5,198.5 909,200.5 905.3,201.7 903.3,201.5 901.3,200.4 899.3,197.4 895.6,186.5 891.1,162.5 890.6,158.5 890.9,154.5 891.5,152.5 893.3,149.5 907.3,133.4 913.3,125.8 917.3,119.8 918.8,116.5 920.1,110.5 921.2,96.5 926.8,72.5 929,52.5ZM1569.9,52.5 1598.1,52.5 1593.3,59.3 1591.2,64.5 1588.9,76.5 1587.9,90.5 1586.6,98.5 1585.3,100.2 1584.8,98.5 1584.3,82.5 1583.1,76.5 1577.2,64.5 1569.9,52.5ZM917,244.5 923.3,244.3 935.3,246.8 941.3,248.7 959.3,257.4 967.6,260.5 983.3,264.8 993.3,266.5 999.3,267 1011.3,266.3 1033.3,262.9 1047.3,262.2 1121.3,263.6 1241.3,262.5 1293.3,264.9 1439.3,275.6 1499.3,279 1539.3,279.9 1573.3,279.9 1603.3,278.8 1627.3,277.1 1627.3,294.4 1571.3,294.5 1539.3,293.9 1471.3,291.1 1369.3,285.9 1301.3,283.2 1283.3,283 1229.3,283.6 1111.3,288 1071.3,288.6 1001.3,293.2 987.3,293.6 975.3,292.7 963.3,290.6 945.3,286.8 929.3,281.8 923.3,280.7 917.3,281.2 911.3,283.1 901.3,288 883.3,298.1 883.3,278.3 897.3,260 905.3,250.7 911.3,246.4 917,244.5Z"/>
<path fill="#f57864" stroke="#f57864" stroke-width="0.6" fill-rule="evenodd" d="M883.3,52.5 929,52.5 926.8,72.5 921.2,96.5 920.1,110.5 918.8,116.5 917.3,119.8 913.3,125.8 907.3,133.4 893.3,149.5 891.5,152.5 890.9,154.5 890.6,158.5 891.1,162.5 895.6,186.5 899.3,197.4 901.3,200.4 903.3,201.5 905.3,201.7 909,200.5 911.5,198.5 914.7,194.5 915.6,192.5 916.8,184.5 918.5,180.5 925.3,168 931.3,159.9 933.3,158.9 935.3,159.7 939.4,164.5 941.3,165.8 943.3,166.1 953.3,162.2 975.3,157.3 987.3,153.6 997.3,149.5 1001.3,147.2 1005.3,144 1010.9,136.5 1013.8,130.5 1016.4,122.5 1019.2,106.5 1020.6,102.5 1023.8,96.5 1028,90.5 1033.1,84.5 1057.6,60.5 1059.6,56.5 1060,52.5 1092.1,52.5 1083.6,62.5 1078.5,72.5 1077.2,76.5 1076.7,80.5 1077.3,82.8 1079.3,85 1081.3,85.9 1083.3,86.1 1087.3,85.1 1099.3,79.3 1113.3,75.3 1117.3,73.1 1121.3,70.3 1123.3,69.6 1127.3,69.7 1128.8,70.5 1129.9,72.5 1130,74.5 1129.3,78.5 1127.8,82.5 1121.3,96 1115.3,103.9 1094.5,126.5 1088.2,134.5 1083.1,142.5 1078.8,150.5 1074,160.5 1071,168.5 1069.1,176.5 1068.1,184.5 1068,192.5 1069.2,198.5 1072.3,204.5 1077.3,210.5 1081.3,213.5 1087.3,216.7 1099.3,220.8 1116.2,224.5 1138.9,228.5 1181.3,234 1235.3,238.5 1299.3,244.9 1311.3,246.2 1315.3,247.4 1321.3,248.1 1421.3,258.3 1469.3,262 1499.3,263.6 1521.3,264.1 1541.3,264 1557.3,263.2 1575.3,261.3 1591.3,258.7 1605.3,255.8 1627.3,250.2 1627.3,277.1 1603.3,278.8 1573.3,279.9 1539.3,279.9 1499.3,279 1439.3,275.6 1293.3,264.9 1241.3,262.5 1121.3,263.6 1047.3,262.2 1033.3,262.9 1011.3,266.3 999.3,267 987.3,265.6 974.3,262.5 961.3,258.3 939.3,248 927.3,244.9 919.3,244.2 915.3,244.8 911.3,246.4 905.3,250.7 897.3,260 883.3,278.3 883.3,52.5ZM1053.3,98.5 1047.3,101.3 1043.5,104.5 1039.9,112.5 1040.8,124.5 1042.2,130.5 1045.3,137.6 1047.3,139.6 1049.3,140.2 1051.3,139.5 1053.3,137.7 1056.7,132.5 1058.5,126.5 1059.7,118.5 1059.9,108.5 1058.8,100.5 1057.3,98.3 1055.3,98 1053.3,98.5ZM1526.9,52.5 1569.9,52.5 1577.2,64.5 1583.1,76.5 1584.3,82.5 1584.8,98.5 1585.3,100.2 1586.6,98.5 1587.9,90.5 1588.9,76.5 1591.2,64.5 1593.3,59.3 1598.1,52.5 1627.3,52.5 1627.3,148.8 1601.3,139.8 1597.3,137.5 1593.3,134.3 1587.3,127.9 1581.3,120.5 1559.3,88.5 1545.3,70.2 1537.3,61.3 1526.9,52.5Z"/>
<path fill="#f54b4b" stroke="#f54b4b" stroke-width="0.6" fill-rule="evenodd" d="M1090.3,54.5 1092.1,52.5 1238.1,52.5 1221.3,59.4 1211.3,64.8 1199.3,73.2 1189.3,82.5 1179.7,94.5 1172.4,106.5 1167.3,117.9 1163.1,132.5 1161.8,142.5 1162.3,152.5 1164.9,162.5 1167.3,168.1 1169.8,172.5 1176.3,180.5 1185.3,188.5 1195,194.5 1208.4,200.5 1223.3,205.9 1237.3,210 1255.3,214.1 1289.3,220.7 1311.3,224.2 1359.3,229.9 1399.3,235.9 1433.3,240.3 1473.3,243.6 1513.3,245 1545.3,244.4 1559.3,243 1567.3,241.8 1573.3,240.2 1579.3,237.7 1584.6,234.5 1589.5,230.5 1593.2,226.5 1596,222.5 1598.8,216.5 1599.9,212.5 1600.4,204.5 1598.9,194.5 1591.2,172.5 1584.3,156.5 1575.3,141.5 1563.3,125.4 1547.3,107.1 1531.3,91.2 1517.3,79.4 1505.3,70.9 1489.3,61.6 1470.9,52.5 1526.9,52.5 1537.3,61.3 1545.3,70.2 1559.3,88.5 1581.3,120.5 1587.3,127.9 1593.3,134.3 1597.3,137.5 1601.3,139.8 1627.3,148.8 1627.3,250.2 1605.3,255.8 1592.4,258.5 1575.3,261.3 1559.3,263.1 1541.3,264 1521.3,264.1 1499.3,263.6 1471.3,262.2 1421.3,258.3 1321.3,248.1 1315.3,247.4 1311.3,246.2 1299.3,244.9 1231.3,238.1 1183.3,234.3 1133.3,227.6 1106.3,222.5 1091.8,218.5 1085.3,215.8 1079.3,212.1 1073.7,206.5 1070,200.5 1068.3,194.5 1067.9,188.5 1068.7,178.5 1070.4,170.5 1072.4,164.5 1075.8,156.5 1084.3,140.5 1092.8,128.5 1115.3,103.9 1119.6,98.5 1123.3,92.5 1126.1,86.5 1129.3,78.5 1130,74.5 1129.9,72.5 1128.8,70.5 1127.3,69.7 1123.3,69.6 1121.3,70.3 1117.3,73.1 1113.3,75.3 1099.3,79.3 1087.3,85.1 1083.3,86.1 1081.3,85.9 1079.3,85 1077.3,82.8 1076.7,80.5 1077.8,74.5 1080.3,68.5 1083.6,62.5 1090.3,54.5ZM1053.3,98.5 1055.3,98 1057.3,98.3 1058.8,100.5 1059.9,108.5 1059.7,118.5 1058.5,126.5 1056.7,132.5 1053.3,137.7 1051.3,139.5 1049.3,140.2 1047.3,139.6 1045.3,137.6 1042.2,130.5 1040.8,124.5 1039.9,112.5 1043.5,104.5 1047.3,101.3 1053.3,98.5Z"/>
<path fill="#f51414" stroke="#f51414" stroke-width="0.6" fill-rule="evenodd" d="M1233.3,54.5 1238.1,52.5 1470.9,52.5 1487.3,60.6 1501.3,68.4 1511.3,74.9 1521.3,82.6 1533.3,93 1543.3,102.9 1557.3,118.2 1567.3,130.4 1577.3,144.5 1584.3,156.5 1589.7,168.5 1596.3,186.5 1599.4,196.5 1600.4,204.5 1599.9,212.5 1598,218.5 1596,222.5 1593.2,226.5 1589.5,230.5 1585.3,234 1577.3,238.7 1567.3,241.8 1549.3,244.1 1531.3,244.9 1501.3,244.8 1475.3,243.7 1447.3,241.7 1425.3,239.3 1361.3,230.2 1317.3,225 1295.3,221.7 1257.3,214.5 1237.3,210 1217.3,203.8 1199.3,196.6 1189.3,191.3 1180.4,184.5 1172.8,176.5 1167.5,168.5 1164.2,160.5 1162,150.5 1162,140.5 1164,128.5 1167.8,116.5 1173.3,104.8 1181.3,92.2 1189.3,82.5 1199.3,73.2 1209.3,66 1219.3,60.3 1233.3,54.5ZM1381.3,72.5 1365.3,73.4 1345.3,76 1335.3,78.1 1319.3,83.1 1313.3,83.8 1299.3,90.2 1285.3,98.5 1275.3,106.4 1269.3,112.5 1264.8,118.5 1261,126.5 1259.2,134.5 1259.3,142.5 1261.3,149.6 1265.4,156.5 1273.4,166.5 1281.3,173.5 1293.6,180.5 1307.4,186.5 1319.3,188.8 1348,196.5 1373.5,202.5 1414.4,210.5 1443.3,214.9 1469.3,217.9 1489.3,219 1509.3,218.7 1521.3,217.5 1531.3,214.8 1539.3,210.5 1545.9,204.5 1548.7,200.5 1550.6,196.5 1552,192.5 1552.9,186.5 1553,182.5 1552.2,176.5 1550.6,170.5 1548.2,164.5 1541.3,151.5 1533.3,140.8 1523.2,130.5 1507.1,116.5 1493.7,106.5 1480.9,98.5 1465.3,90.4 1449.3,83.8 1433.3,78.9 1415.3,74.9 1399.3,72.9 1381.3,72.5Z"/>
<path fill="#f50000" stroke="#f50000" stroke-width="0.6" fill-rule="evenodd" d="M1381.1,72.5 1399.3,72.9 1415.3,74.9 1433.3,78.9 1449.3,83.8 1465.3,90.4 1480.9,98.5 1493.7,106.5 1507.1,116.5 1523.2,130.5 1533.3,140.8 1541.3,151.5 1548.2,164.5 1550.6,170.5 1552.2,176.5 1553,182.5 1552.9,186.5 1552,192.5 1550.6,196.5 1548.7,200.5 1545.9,204.5 1539.3,210.5 1531.3,214.8 1521.3,217.5 1509.3,218.7 1489.3,219 1469.3,217.9 1443.3,214.9 1414.4,210.5 1373.5,202.5 1348,196.5 1319.3,188.8 1307.4,186.5 1293.6,180.5 1281.3,173.5 1273.4,166.5 1265.4,156.5 1261.3,149.6 1259.3,142.5 1259.2,134.5 1261,126.5 1264.8,118.5 1269.3,112.5 1275.3,106.4 1285.3,98.5 1299.3,90.2 1313.3,83.8 1319.3,83.1 1335.3,78.1 1345.3,76 1365.3,73.4 1381.1,72.5Z"/>
<path fill="none" stroke="#000" stroke-width="2.0" stroke-linejoin="round" stroke-linecap="round" d="M1627.3,441 1569.3,442.6 1539.3,444.2 1511.3,447 1471,452.5M1627.3,429 1571.3,429.7 1519.3,431.1 1491.3,432.3 1453.3,435.1 1425.3,437.8 1399.3,441.1 1381.3,444.6 1350.7,452.5M1627.3,417 1561.3,417 1493.3,418.4 1441.3,421.4 1369.3,427.8 1337.3,431.1 1309.3,435.1 1297.3,437.6 1286,440.5 1246.6,452.5M1627.3,406 1559.3,405 1521.3,405.3 1481.3,406.4 1427.3,409.2 1355.3,413.9 1325.3,416.3 1297.3,419.7 1268.8,424.5 1207.4,436.5 1130.8,452.5M1627.3,395 1547.3,393.9 1479.3,394.4 1427.3,396.5 1355.3,400.5 1325.3,402.6 1297.3,405.5 1269.3,409.5 1215.3,418.5 1161.3,428.1 1139.3,431.6 1077.3,438.9 1037.3,442 997.3,443.8 963.3,444 937.3,442.9 883.3,439M1627.3,385 1559.3,383.6 1491.3,383.5 1427.3,384.9 1353.3,388.1 1311.3,390.9 1283.3,393.8 1217.3,402.8 1139.3,414.4 1085.3,420.1 1037.3,424.5 997.3,426.7 951.3,428 911.3,427.1 883.3,425M1627.3,375 1559.3,373 1481.3,372.4 1427.3,373.5 1325.3,377 1297.3,379.1 1269.3,382 1217.3,388.7 1141.3,399 1057.3,407.1 1035.3,408.7 1015.3,409.6 951.3,411.6 883.3,413M1627.3,364.4 1559.3,362.4 1479.3,361.6 1413.3,362.6 1325.3,365.5 1297.3,367.3 1269.3,369.9 1141.3,383.9 1065.3,391.3 1041.3,392.9 1015.3,394.2 939.3,396.4 923.3,397.6 883.3,401.6M1627.3,354 1559.3,352 1479.3,351 1413.3,351.4 1355.3,352.4 1323.3,353.4 1281.3,356.1 1151.3,368.9 1109.3,372.1 1073.3,375.5 1035.3,377.7 993.3,379.5 963.3,380.3 939.3,381.5 923.3,383.2 883.3,389M1627.3,343 1535.3,340.5 1453.3,339.4 1371.3,340 1311.3,341.5 1283.3,343 1243.3,346 1149.3,354.1 1031.3,363.3 1009.3,364.4 947.3,365.9 935.3,366.5 917.3,368.5 883.3,373M1627.3,332 1547.3,329.7 1453.3,328 1355.3,327.5 1309.3,328 1269.3,329.9 1201.3,334.3 1119.3,340.3 1019.3,348.4 991.3,349.6 941.3,350.5 883.3,353.6M1627.3,321 1561.3,319.6 1469.3,316.9 1379.3,315.6 1333.3,314.5 1297.3,314.6 1217.3,317.6 1141.3,321.5 1069.3,326.5 1013.3,331.7 991.3,333.2 969.3,333.9 957.3,333.8 947.3,333 927.3,330.6 915.3,330 905.3,331 883.3,335M1627.3,309 1559.3,308 1489.3,305.2 1341.3,300.4 1313.3,299.7 1289.3,299.7 1265.3,300.3 1141.3,305 1055.3,309.9 1039.3,311.1 1009.3,314 993.3,315 973.3,314.8 955.3,313.7 947.3,312.8 931.3,309.8 925.3,309.1 919.3,309 907.3,310.6 883.3,316.1M938.7,52.5 937.5,62.5 935.6,70.5 932.8,78.5 932.1,84.5 932,90.5 933,106.5 933.3,120 933.9,122.5 935.3,123.2 937.3,122.9 941.3,121.5 954.6,114.5 979.3,102.5 983.3,100 987.3,96.5 989.8,92.5 991,88.5 991.6,80.5 991,72.5 991.6,68.5 995.3,62.6 1003.1,52.5M1627.3,294.4 1571.3,294.5 1539.3,293.9 1471.3,291.1 1369.3,285.9 1301.3,283.2 1283.3,283 1229.3,283.6 1111.3,288 1071.3,288.6 1001.3,293.2 987.3,293.6 975.3,292.7 963.3,290.6 945.3,286.8 929.3,281.8 923.3,280.7 917.3,281.2 911.3,283.1 901.3,288 883.3,298.1M929,52.5 928.2,62.5 926.8,72.5 925.3,80.2 921.2,96.5 920.1,110.5 918.8,116.5 917.3,119.8 913.3,125.8 907.3,133.4 893.3,149.5 891.5,152.5 890.9,154.5 890.6,158.5 891.1,162.5 893.4,176.5 895.6,186.5 897.3,192.4 899.3,197.4 901.3,200.4 903.3,201.5 905.3,201.7 909,200.5 911.5,198.5 914.7,194.5 915.6,192.5 916.8,184.5 918.5,180.5 925.3,168 927.3,164.9 931.3,160 933.3,158.9 935.3,159.7 939.4,164.5 941.3,165.8 943.3,166.1 953.3,162.2 975.3,157.3 987.3,153.6 997.3,149.5 1001.3,147.2 1005.3,144 1008.2,140.5 1010.9,136.5 1013.8,130.5 1016.4,122.5 1019.2,106.5 1020.6,102.5 1023.8,96.5 1028,90.5 1033.1,84.5 1057.6,60.5 1058.9,58.5 1059.6,56.5 1060,52.5M1569.9,52.5 1577.2,64.5 1583.1,76.5 1584.3,82.5 1584.8,98.5 1585.3,100.2 1586.6,98.5 1587.9,90.5 1588.9,76.5 1591.2,64.5 1593.3,59.3 1598.1,52.5M1627.3,277.1 1603.3,278.8 1573.3,279.9 1539.3,279.9 1499.3,279 1439.3,275.6 1293.3,264.9 1255.3,262.8 1241.3,262.5 1121.3,263.6 1047.3,262.2 1033.3,262.9 1011.3,266.3 1005.3,266.9 999.3,267 987.3,265.6 974.3,262.5 961.3,258.3 945.3,250.5 939.3,248 927.3,244.9 923.3,244.3 919.3,244.2 915.3,244.8 911.3,246.4 909.3,247.5 905.3,250.7 897.3,259.9 883.3,278.3M1526.9,52.5 1537.3,61.3 1545.3,70.2 1559.3,88.5 1581.3,120.5 1587.3,127.9 1593.3,134.3 1597.3,137.5 1601.3,139.8 1627.3,148.8M1053.3,98.5 1055.3,98 1057.3,98.3 1058.8,100.5 1059.9,108.5 1059.7,118.5 1058.5,126.5 1056.7,132.5 1055.3,135.1 1053.3,137.7 1051.3,139.4 1049.3,140.2 1047.3,139.6 1045.3,137.6 1043.3,133.7 1042.2,130.5 1040.8,124.5 1039.9,112.5 1042.3,106.5 1043.5,104.5 1047.3,101.3 1053.3,98.5M1627.3,250.2 1605.3,255.8 1592.4,258.5 1575.3,261.3 1559.3,263.1 1541.3,264 1521.3,264.1 1499.3,263.6 1471.3,262.2 1441.3,260.1 1421.3,258.3 1321.3,248.1 1315.3,247.4 1311.3,246.2 1299.3,244.9 1231.3,238.1 1197.3,235.7 1183.3,234.3 1133.3,227.6 1106.3,222.5 1091.3,218.3 1082.9,214.5 1077.3,210.5 1073.7,206.5 1070,200.5 1068.3,194.5 1067.9,188.5 1068.7,178.5 1070.4,170.5 1072.4,164.5 1075.8,156.5 1084.3,140.5 1088.2,134.5 1092.8,128.5 1115.3,103.9 1119.6,98.5 1123.3,92.5 1126.1,86.5 1129.3,78.6 1130,74.5 1129.9,72.5 1128.8,70.5 1127.3,69.7 1123.3,69.6 1121.3,70.3 1117.3,73.1 1113.3,75.2 1099.3,79.3 1091.3,83.4 1087.3,85.1 1083.3,86.1 1081.3,85.9 1079.3,85 1077.3,82.8 1076.7,80.5 1077.2,76.5 1078.5,72.5 1083.6,62.5 1086.6,58.5 1092.1,52.5M1470.9,52.5 1487.3,60.6 1503.3,69.6 1515.3,77.9 1527.3,87.6 1543,102.5 1557.3,118.2 1569.3,133.1 1579.8,148.5 1584.3,156.5 1588,164.5 1595.6,184.5 1599.3,196.5 1600.1,200.5 1600.5,206.5 1600.2,210.5 1599.4,214.5 1598,218.5 1596,222.5 1593.2,226.5 1589.5,230.5 1585.3,234 1581.5,236.5 1573.3,240.2 1565.3,242.2 1549.3,244.1 1535.3,244.8 1513.3,245 1485.3,244.2 1459.3,242.7 1433.3,240.3 1399.3,235.9 1359.3,229.9 1309.3,223.9 1277.6,218.5 1249.3,212.8 1231.7,208.5 1211.3,201.6 1195,194.5 1185.2,188.5 1180.4,184.5 1176.3,180.5 1169.8,172.5 1165.6,164.5 1163,156.5 1162,150.5 1161.8,146.5 1162.4,136.5 1165.3,123.9 1169.5,112.5 1175.8,100.5 1183.3,89.6 1187.3,84.7 1193.3,78.5 1203.3,70.1 1213.3,63.6 1221.3,59.4 1238.1,52.5M1381.5,72.5 1399.3,73 1415.3,74.9 1433.3,78.9 1449.3,83.8 1465.3,90.4 1480.9,98.5 1493.7,106.5 1507.1,116.5 1523.2,130.5 1533.3,140.8 1537.9,146.5 1541.3,151.5 1545.3,158.4 1548.2,164.5 1550.6,170.5 1552.2,176.5 1553,182.5 1552.9,186.5 1552,192.5 1550.6,196.5 1548.7,200.5 1545.9,204.5 1543.3,207.2 1539.3,210.5 1535.3,212.9 1531.3,214.8 1526,216.5 1521.3,217.5 1509.3,218.7 1489.3,219 1469.3,217.9 1443.3,214.9 1414.4,210.5 1392.5,206.5 1373.6,202.5 1348,196.5 1319.3,188.8 1311.3,187.6 1307.4,186.5 1293.6,180.5 1286,176.5 1281.3,173.5 1277.5,170.5 1273.4,166.5 1265.4,156.5 1261.3,149.6 1260.1,146.5 1259.3,142.5 1259.2,134.5 1261,126.5 1262.6,122.5 1264.8,118.5 1269.3,112.5 1275.3,106.4 1285.3,98.5 1299.3,90.2 1309.3,85.3 1313.3,83.8 1319.3,83.1 1335.3,78.1 1345.3,76 1365.3,73.4 1381.5,72.5M1415.6,142.5 1423.3,141.4 1433.3,140.9 1437.3,141.2 1441.3,142.4 1452,148.5 1457.5,152.5 1459.3,154.5 1460.4,156.5 1461.1,160.5 1460.4,162.5 1459.3,163.5 1457.3,164.2 1449.3,165 1437.3,164.4 1433.3,163.8 1428.6,162.5 1425.3,160.8 1419.3,156.6 1415.6,154.5 1413.2,152.5 1412.5,150.5 1412.8,144.5 1413.3,143.8 1415.6,142.5"/>
<path fill="#f54b4b" stroke="#000" stroke-width="1.3" stroke-linejoin="round" d="M887.6,52.6 891.1,66.2 893.1,75 893.3,77.1 893,80 892.1,83.8 888,98 885.5,114.5 884.5,130.1 884.6,151.8 885,160 885.3,160 887,152 889,148.2 894.2,141.2 905.3,127.8 906.8,126.2 908.5,125 910.8,124.5 915.9,124.5 917.6,123.6 918.4,121.6 918.1,104.6 917,90 919,79 919.5,74.3 919.5,70 917.9,64.4 917.6,62.4 917.7,60.1 919,52.6"/>
<path fill="#f50000" stroke="#000" stroke-width="1.3" stroke-linejoin="round" d="M899,52.6 896.9,58 896.4,60 895.9,64.9 896,70 897.6,76.9 898.2,81 898,86.6 897.1,90 895.6,93.4 891,101 889.8,104.8 888.7,111.6 887.5,130 888,133.4 888.4,134.5 889,135 889.8,134.7 890.8,133.8 893,131 898.9,120.9 901,118 904.9,113.5 906.9,110.4 912,98 914,90 914.5,85.5 914.5,81 914,76.9 913,73 911.2,69 909,65.4 904,60 901,52.6"/>
<ellipse cx="907.8" cy="83" rx="1.8" ry="5" fill="#c81428" stroke="#000" stroke-width="1.1" transform="rotate(8 907.8 83)"/>
<ellipse cx="899.9" cy="104" rx="1.8" ry="5" fill="#c81428" stroke="#000" stroke-width="1.1" transform="rotate(8 899.9 104)"/>
<ellipse cx="892" cy="121.5" rx="1.6" ry="5.5" fill="#c81428" stroke="#000" stroke-width="1.1" transform="rotate(8 892 121.5)"/>
<path fill="none" stroke="#000" stroke-width="1.7" stroke-linejoin="round" d="M1130.5,52.6 1127,54.8 1125.3,56.1 1124.1,58.1 1123.6,61.2 1123.7,69 1123.1,72.1 1121.6,74 1119.6,75.2 1115.1,77.1 1108.7,81.1 1106.1,82.1 1102.9,82.6 1093.1,83.1 1091.8,83.5 1090.1,85.1 1084.2,88 1076.1,92.5 1074.1,94.1 1069.9,98.7 1067.9,101.3 1064.5,106.9 1061.9,112.9 1061.1,116.1 1060.8,119.6 1061.2,126.8 1061.1,130.1 1060,135.5 1058.1,140.1 1056.8,142.2 1052.1,148.1 1047.1,156.1 1041.1,162.1 1034.1,172.1 1029.6,177.1 1028.1,179.1 1022.1,190.1 1018.5,195.2 1016.4,197.4 1014.1,199.1 1011.4,200.1 1008.4,200.5 1005.2,200.6 999.1,200.2 996,199.7 990.1,198.1 987.3,196.8 982,193.8 980.1,193.1 978.9,193.2 978.1,193.8 977.9,194.8 978.1,196.1 979.1,197.8 984.1,204.1 987.1,208.5 989.2,212.1 993.2,220 993.3,220.8 993.1,222.1 992.3,224.1 989.5,229.2 988.1,231.1 986.9,232.3 985.7,233 981.5,234.6 976.1,236.1 970.3,239.2 968.1,240.1 965.7,240.8 953.7,242.9 951.7,243.2 950.1,243.1 948.9,242.4 947.1,239.6 946.8,239.5 946.5,240.4 946.8,242.2 948.1,246.1 949.1,248.3 949.1,249.1 946.7,252.7 946.1,254.1 946.2,255.8 947.2,259.6 947.1,261.1 946.3,262.2 945.2,263.1 942.1,264.1 940.3,264.2 934.1,263.1 927.7,260.5 926.1,260.1 924.9,260.4 924,261 923.1,263.1 923.1,264.4 924.1,269.1 924.3,273.2 925.1,274.1 927,274.4 932.2,274 934.1,274.1 935,274.6 935.4,275.4 935.8,278.8 935.6,279.6 935.1,280.1 934.2,280.3 930.1,280.1 927.1,280.5 925.1,281.1 925.5,281.5 927.7,282.4 928.1,283.1 927.5,284 924.1,287.1 922.9,289 922.1,291.1 921.1,297.1 920.5,299.3 920,300.2 919.1,301.1 917.5,301.9 913,303.2 911.1,304.1 909.6,305.2 907.1,307.8 904.6,311.5 904.2,312.8 904.1,314.1 904.5,315.6 905.2,317.2 907.1,320.1 908.9,321.9 911.1,323.1 916.7,324.4 918.1,325.1 918.8,326.2 919.2,327.5 919.1,330.1 918.7,332.1 918.2,333.1 917.1,334.1 908.1,339.1 905.1,341.5 904,342.7 903.1,344.1 902.6,345.8 902.5,349.6 902.1,351.1 901.4,352.1 898.1,354.1 893.4,356.1 892.1,357.1 891.2,358.4 890.6,359.9 890.1,363.1 890.3,364.8 891.4,368.4 893,371.8 895.2,375 896.7,376.7 898.1,377.1M884.1,378.1 887,376.3 888.1,376.1 889.3,376.2 891.9,377.3 893.1,378.1 895.3,380.4 897.1,383.1 898.4,386.9 899.1,388.1 901.2,390.1 907.8,394.7 912.1,397.1 914.7,397.9 922.1,399.6 923.7,400.4 923.6,400.8 923.1,401.1 916.1,402.1 908.1,404.1 901.6,404.7 900.1,405.1 899.5,406 899.5,408.5 899.1,409.1 897.9,409 894.6,407.5 893.1,407.1 891.8,407.2 888.1,408.1 887,408 884.1,407.1M956.1,370.6 961.1,367.1 962.5,365.8 964.1,365.5 968.1,365.9 973.1,367.6 978.1,367.1 982.1,367.4 984.5,368.2 984.9,368.6 985.2,369.7 984.8,371.1 984.1,371.6 978.1,372.1 977.2,372.7 975.9,374.5 975.1,375.1 974,375.5 971.3,375.7 970.1,375.6 969,375.1 967,373.6 966.1,373.1 965.3,373 963.1,373.6 961.6,374.9 961.1,375.1 959.6,374.4 958.1,373.1 956.1,370.6M1148.1,392.1 1155.5,393.5 1161.5,396.1 1163.1,397.1 1164.3,398.1 1165.7,400.3 1166.3,402.1 1166,402.2 1165.5,402.1 1160.5,398.5 1155.7,395.9 1148.1,392.8M1571.1,52.6 1574.8,63 1576.1,66.1 1577.6,68.6 1580.9,73 1582.1,76.1 1582.7,80.4 1582.8,90.9 1583.1,96.1 1583.7,101.2 1586.1,116.1 1587.8,123.7 1588.8,127 1590.1,130.1 1591.9,132.8 1596.1,137.4 1598.1,140.1 1599.7,143.2 1604.1,154.1 1610.5,167.9 1612.1,172.1 1612.8,175.6 1613.1,184.1 1614,188.3 1614.7,190.2 1616.1,192.1 1618.3,194.1 1627.1,200.1"/>
</g>
<rect x="883.3" y="52.5" width="744.6" height="400.2" fill="none" stroke="#000" stroke-width="1.8"/>
<path d="M875.3,52.5H883.3M875.3,152.6H883.3M875.3,252.6H883.3M875.3,352.6H883.3M875.3,452.7H883.3M966,452.7V460.7M1131.5,452.7V460.7M1297,452.7V460.7M1462.4,452.7V460.7M1627.9,452.7V460.7" stroke="#000" stroke-width="1.8" fill="none"/>
<text class="tk" x="831.7" y="61.6" textLength="37.6" lengthAdjust="spacingAndGlyphs">20S</text>
<text class="tk" x="831.7" y="161.7" textLength="37.6" lengthAdjust="spacingAndGlyphs">30S</text>
<text class="tk" x="831.7" y="261.7" textLength="37.6" lengthAdjust="spacingAndGlyphs">40S</text>
<text class="tk" x="831.7" y="361.8" textLength="37.6" lengthAdjust="spacingAndGlyphs">50S</text>
<text class="tk" x="831.7" y="461.8" textLength="37.6" lengthAdjust="spacingAndGlyphs">60S</text>
<text class="tk" x="946.1" y="482.3" textLength="41" lengthAdjust="spacingAndGlyphs">60W</text>
<text class="tk" x="1111.6" y="482.3" textLength="41" lengthAdjust="spacingAndGlyphs">40W</text>
<text class="tk" x="1277.1" y="482.3" textLength="41" lengthAdjust="spacingAndGlyphs">20W</text>
<text class="tk" x="1456.3" y="482.3" textLength="13.4" lengthAdjust="spacingAndGlyphs">0</text>
<text class="tk" x="1609.5" y="482.3" textLength="38" lengthAdjust="spacingAndGlyphs">20E</text>
<text class="ti" y="34" xml:space="preserve"><tspan x="1057.1" textLength="106.2" lengthAdjust="spacingAndGlyphs">Annual</tspan> <tspan x="1184.3" textLength="80.8" lengthAdjust="spacingAndGlyphs">Mean</tspan> <tspan x="1285.6" textLength="57.1" lengthAdjust="spacingAndGlyphs">SLP</tspan> <tspan x="1365.8" textLength="87.6" lengthAdjust="spacingAndGlyphs">(Obs)</tspan></text>
<text class="pl" x="881" y="38.2">(b)</text>
<path d="M936,503.8L989.5,494V513.5Z" fill="#0000fa" stroke="#1a1a1a" stroke-width="0.9" stroke-linejoin="miter"/>
<rect x="989.5" y="494" width="53.1" height="19.5" fill="#3728f5" stroke="#1a1a1a" stroke-width="0.9"/>
<rect x="1042.6" y="494" width="53.1" height="19.5" fill="#4b46eb" stroke="#1a1a1a" stroke-width="0.9"/>
<rect x="1095.7" y="494" width="53.1" height="19.5" fill="#5a6eeb" stroke="#1a1a1a" stroke-width="0.9"/>
<rect x="1148.8" y="494" width="53.1" height="19.5" fill="#6e96f0" stroke="#1a1a1a" stroke-width="0.9"/>
<rect x="1201.9" y="494" width="53.1" height="19.5" fill="#c8f0f0" stroke="#1a1a1a" stroke-width="0.9"/>
<rect x="1255" y="494" width="53.1" height="19.5" fill="#f3f3c8" stroke="#1a1a1a" stroke-width="0.9"/>
<rect x="1308.1" y="494" width="53.1" height="19.5" fill="#f0a078" stroke="#1a1a1a" stroke-width="0.9"/>
<rect x="1361.2" y="494" width="53.1" height="19.5" fill="#f57864" stroke="#1a1a1a" stroke-width="0.9"/>
<rect x="1414.3" y="494" width="53.1" height="19.5" fill="#f54b4b" stroke="#1a1a1a" stroke-width="0.9"/>
<rect x="1467.4" y="494" width="53.1" height="19.5" fill="#f51414" stroke="#1a1a1a" stroke-width="0.9"/>
<path d="M1575,503.8L1520.5,494V513.5Z" fill="#f50000" stroke="#1a1a1a" stroke-width="0.9"/>
<text class="cb" x="968.1" y="530" textLength="43.5" lengthAdjust="spacingAndGlyphs">1000</text>
<text class="cb" x="1021.2" y="530" textLength="43.5" lengthAdjust="spacingAndGlyphs">1002</text>
<text class="cb" x="1074.3" y="530" textLength="43.5" lengthAdjust="spacingAndGlyphs">1004</text>
<text class="cb" x="1127.4" y="530" textLength="43.5" lengthAdjust="spacingAndGlyphs">1006</text>
<text class="cb" x="1180.5" y="530" textLength="43.5" lengthAdjust="spacingAndGlyphs">1008</text>
<text class="cb" x="1233.6" y="530" textLength="43.5" lengthAdjust="spacingAndGlyphs">1010</text>
<text class="cb" x="1286.7" y="530" textLength="43.5" lengthAdjust="spacingAndGlyphs">1012</text>
<text class="cb" x="1339.8" y="530" textLength="43.5" lengthAdjust="spacingAndGlyphs">1014</text>
<text class="cb" x="1392.9" y="530" textLength="43.5" lengthAdjust="spacingAndGlyphs">1016</text>
<text class="cb" x="1446" y="530" textLength="43.5" lengthAdjust="spacingAndGlyphs">1018</text>
<text class="cb" x="1499.1" y="530" textLength="43.5" lengthAdjust="spacingAndGlyphs">1020</text>
<text class="un" x="1574.2" y="533.2" textLength="57.6" lengthAdjust="spacingAndGlyphs">hPa</text>
<clipPath id="cc"><rect x="54.8" y="600" width="744.4" height="400.3"/></clipPath>
<g clip-path="url(#cc)">
<rect x="54.8" y="600" width="744.4" height="400.3" fill="#f5c8a0"/>
<path fill="#f0a078" stroke="#000" stroke-width="2.0" stroke-linejoin="round" d="M446,594.5 443.6,595.2 443.3,596.1 445.5,598.4 446,599.6 445.6,604.5 444,607.8 441.3,612 438,616 436.1,617.8 429.5,622.6 428,624 426.5,626.2 426,630 427.3,641.8 427,644 426.2,645.3 425,646.1 423.5,646.5 417.9,647.3 410.2,647.6 408,648 404.6,649.1 400,652 392.3,660.1 390,662 384.8,665.2 376,669 372.9,669.8 363,671.3 360,672 354.6,674 350,676.5 348,678 346.3,679.7 343.6,683.8 342,688 341.6,692 342.3,696 344,700 346.7,704.1 350,708 360,716 365.3,720.9 368,724 369.8,726.7 370.9,729 370.9,730.9 369.8,732.4 368,733 366.8,732.8 362.1,730.6 360,730 346,729 329.8,726.2 326,726 322.4,726.2 319,726.8 306,730 300,732 272.5,743.1 270.9,744 270,745 269.7,746.1 270,747.2 270.9,748.3 272.2,749.3 274,750 276.4,750.4 290,751 297.9,752.4 322.7,757.8 326,758 329.6,757.7 340.8,755.4 344,755 346.8,755 351.8,755.7 356,757 359.7,758.6 362.8,760.8 364,762 364.9,763.4 366.1,766.7 368.3,777 369,778 370,778.5 372.7,778.4 376,777 377.8,775.6 384.1,769.4 386,768 389.2,766.7 392.3,766.7 395.8,767.6 404,772 416,776 421.5,778.3 424,780 425.4,782 425.6,784 425,785 422.3,786.8 416,789 404,791 402.2,791.8 397.8,795.1 396,796 389.1,798.1 384,799 381.3,799.1 370,799 367.7,799.5 361.8,801.7 358.3,802 355.1,801.2 347.2,797.8 344,796 337.7,790.8 336,790 334.1,789.6 326,790 319.9,789.2 316,788 312.6,785.8 308,782 304.7,778.2 303.6,777.3 302,777 300,777.4 292.6,781.2 290,782 287.2,782.2 278.2,781.6 276,782 274.4,783.1 273.3,784.7 272.1,788.4 272.1,791.4 272.5,792.7 274.4,795 276,796 278.2,796.7 287.2,797.9 290,799 292.5,800.7 299.5,807.9 302,810 310,815.2 316,818 326.8,821 334,822 337.4,821.9 347,820.1 350,820 353,820.4 358.8,822 364,824 368.6,826.3 372.5,828.8 375.2,831.1 377,833.2 377.3,834.1 377,835 376,835.7 368,838 358.2,839.4 356,840 349.7,842.9 348.4,844 348,845 348.9,846 355.8,848.8 358,850 366,858 370.2,861.6 371.9,862.4 374,863 379.8,863 390,862 406,861 416,859.9 419.6,860.4 422.2,862 424,864 425.3,866.2 426,870 425.6,873.1 424,878 420.6,884.3 419.5,887.9 418.8,894 419.6,898 421.5,902.1 424,906 433.3,915.6 442.4,928.4 446,931.6 450.8,935 456,938 461.4,940.4 467,942.2 473.1,943.6 479.6,944.6 486,945 497.4,943.9 502.5,944.4 507.3,946 512,948 521.6,952.9 526.4,955 531.1,956.7 536,958 541.7,958.7 552,959 554.9,958.9 558,958 563.8,954.8 589.7,937.4 596,933.5 599.8,931.6 602,931 604.6,930.7 616,931 620.9,930.3 637.1,927.3 647.4,926.4 660,926 676.5,927.4 682.9,927.6 689.9,926.7 694.1,925.1 700,921.5 706.1,916.3 713.8,908 726,892 732,888 736,883.4 738,880 738.6,878.4 739.1,873.6 738.5,870.4 736.2,865.5 736,864 737,861.1 739,858.7 740,858 741.1,857.8 743.5,858.5 747.2,860.9 749.7,863.3 752.9,867.5 755.1,872.4 757.1,875.5 759.5,878.5 764.1,883.1 766.4,884.6 768,885 770,885.1 780,883.6 788.1,883 791.9,883.1 799,884 800.5,885.7 803.2,891.5 804.2,890.6 805,884 805.5,868.3 805.7,819.7 805,781 804.3,774.3 803.4,773.3 800.7,779 799,781 788.9,785.9 786,787 776.8,789.2 770,790 753.7,789.8 750,790 746.8,790.6 731.1,795.3 726.4,796.1 724,796 721.6,795.3 712,790 700,786 692,781.3 690,781 688,781.5 680,787 675.2,789.4 670.2,791.5 666.2,792.1 664.6,791.8 660,790 652.3,785.9 650,785 636,783 633.5,782 628.7,779.2 626.4,778.2 624,778 621.6,778.8 612,786 604.5,789.2 600,790 598.2,789.6 593.8,786.5 592,786 589.9,786.1 585,787.3 580,789 572.5,792.8 570.1,793.7 568,794 566.2,793.3 561.9,788.4 560,787 554.8,785 546,783 543.2,782.8 532,783 529.5,782.5 522.5,780.1 520,780 517.3,780.5 506,785 498.4,787.4 494,788 492.2,787.7 489.2,786.4 484.1,782.4 469.6,767.1 468,766 466.4,765.6 461.5,766.5 460,766 458.7,764.7 457.6,762.8 455.3,758.3 452.5,753.7 446,744 441.7,738.2 440.9,736.5 441,735 442.1,733.7 444.1,732.7 454.6,729.2 463.2,727 466,726 471.6,723.3 480,718 491.6,707.2 494,706 495.9,706.3 497.4,707.8 499.8,711.8 501,713 503.2,713.6 504.2,713.4 506,712 507.7,708.7 508.5,706.6 508.9,704.3 509,702 508.5,699.7 507.6,697.2 504,690 498,680 496.6,676 496,671.9 496.4,668 497.8,663.9 500,661 501.3,660.3 504.5,660.1 508,661 509.9,661.9 514.2,664.6 518,668 520.9,671.8 524,678 524.6,680.3 525.3,687.3 526,688 527.2,686.9 532.3,678.6 534,677 535.6,676.6 537.2,676.8 540.4,678.6 543.6,681.8 545.3,684.2 550,692 556,704 557.7,707 558.5,708.1 559.2,708.5 560,708 560.8,706.4 562.5,700.6 564,694 567,678 567.7,676.6 570.1,675.1 571,674 575,663.5 576,662 577.1,661.6 578.4,662.1 579.6,663.1 580.5,664.4 581,666 580.9,667.9 576.8,683.5 573.8,697.7 572.9,703.3 573,706 574.3,711.1 575.3,713.6 578,718 581.5,721.8 585.8,724.8 588,726 590.3,726.9 595.1,727.9 597.6,728.1 602.5,727.7 607.6,726.3 609.9,725.3 613.9,722.4 617.2,718.4 618.3,716.2 619,714 619.1,711.7 618,706.9 614.7,699.6 601.5,680.4 597.3,673.2 594,666 591.6,658.6 591,654 591.5,652 594.7,646.7 595,645 594.7,643.3 592.8,639.9 590,637 588.4,635.8 582.5,632.9 574.2,630.3 564,628 544,625 535.3,622.2 527.2,618.7 516,613 503.1,607.2 496.9,605 488,602.6 484.8,601.5 484.2,601.1 484,599.6 484.5,598.7 486.6,596.3 486.4,595.2 484,594.5 469.7,593.9 451.8,594.1 446,594.5Z"/>
<path fill="#f0a078" stroke="#000" stroke-width="2.0" stroke-linejoin="round" d="M178,749 180.3,749.7 183,752 186.7,760.1 192,766.1 194,767.7 195,768 195.9,767.7 201.4,761.4 203,760.5 203.8,760.7 207,764 211,770 219.2,776.7 220.8,777 227.2,774.4 229,774.5 230.1,776.2 231.9,783.5 232,786 231.4,788.9 229,796 228,797 227.2,796.9 225.1,795.6 218,790 215,789 213,789 209.9,789.9 207.1,791.7 204,795 203.2,798 203,798 201.5,793.2 200.5,791 198,788 195.7,786.5 194.3,786.7 191.8,788.3 189.1,790.9 187.4,793 187,794 187.6,795.6 191.9,800 195,803 199.1,805.4 201.4,807.5 203.4,810.9 204.4,813.7 204.3,818.2 203,824 198,833.6 197,836 196,840.9 195.8,845.7 196.4,850.2 197.7,854.2 198.7,856.2 201.6,859.7 205.4,862.9 212.6,867.6 221.4,872.3 224,874 226.2,875.9 231.9,882.2 234,884 236.3,885.5 252.4,893.3 256,896 258.8,899.7 262,906 264.8,914.3 266,916 267.6,917.5 271.6,919.9 276,922 286.7,925 288,926 288,927.3 286.9,928.7 283.5,932.1 282,934 277.1,943.4 275.1,948.7 272.9,957.2 271,962.8 268.8,968.5 266,974 262.2,979.1 256,986 248.1,992.6 247,994 246.6,995.3 246.7,996.5 248,1000 251.2,1001.4 262.3,1004.3 260.7,1005.6 248,1006.5 173.4,1010.5 124.1,1012.2 79.7,1011.4 49.5,1006.5 36.4,995.2 34.1,978.5 38.4,960 49.5,932 52.8,927.2 57.6,926.7 63,928.5 68.1,930.9 72,932 77.4,931.7 80,931 83.9,929.3 96.1,922.6 100,920 104.9,915.7 108,912 111.3,906.7 119.9,890.7 122,886 124.2,879.1 125,874 125,871 124,861 124,858 124.7,852.7 126.1,848.1 128.1,844 130.8,840.6 134,838 137.8,836.5 139.9,836.1 144,836 148.1,837 152.1,838.8 155.7,841.3 157.3,842.9 162,848 166.8,854.4 168.4,856.1 170,857 171.7,856.9 173.6,856.1 175.4,854.7 178,852 178.5,849.9 177,846 170,836 165,828 164.3,827.3 162,826 159,821 155,816 152,810 150,804 144.5,795 142.7,791.6 142.7,790.6 143,789 145.1,784.1 150,775 155.9,765.7 162,757.5 166.1,753.1 170,750 173.5,748.8 178,749Z"/>
<path fill="#f5c8a0" stroke="#000" stroke-width="2.0" stroke-linejoin="round" d="M49.5,979 50.2,977.1 51.2,976.7 52.4,977.2 57.8,981.2 62,986 63.9,989.2 66.6,995.3 69,1002.9 69.4,1004.3 69.2,1005.6 68,1006.5 61,1008.3 56.5,1008.8 52.3,1008.4 49.5,1006.5 48.2,1002.3 47.9,996.2 48.2,989.3 49.5,979Z"/>
<path fill="#f0a078" stroke="#000" stroke-width="2.0" stroke-linejoin="round" d="M231,658 233.7,657.1 246.5,656.6 250,656 255,653.5 257,651.8 260,648 260.9,645.5 261.5,636.9 262,635 262.8,633.8 263.9,633.1 265,632.9 266.1,633.2 267,634 267.8,635.5 269.3,640.3 270,646 269.6,652.3 268,662 266.2,669.7 265.9,671.9 266,674 266.8,675.8 270.9,680.2 272,682 272.8,684.1 273.8,688.9 274,691.4 273.6,696.8 271,705.6 269,710 266.8,713.2 264,716 262.2,717.3 255.8,720.7 254,722 252.5,723.6 246.7,731.7 245.7,732.4 244.1,732 242,730.3 240,728 238.5,725.2 237,720 236.9,714.2 238,710 239.2,707.7 246,698 251,690 254.5,681.7 255,678 254.6,676.5 252.7,674 250,672 248.3,671.2 244.1,669.8 240,669 233.1,669.7 232,669 230.1,665 229.6,662.3 229.8,659.8 231,658Z"/>
<path fill="#f0a078" stroke="#000" stroke-width="2.0" stroke-linejoin="round" d="M196,726 196.1,723.4 196.5,721.7 198,718 200.8,713.9 204.3,709.6 207.7,706.7 211.1,704.9 215.2,703.9 217.1,704.3 217.7,705 218,706 217.9,707.5 216.8,711.8 215,716 212.5,719.2 209.5,721.8 206.4,724.1 201.4,726.6 197.8,727.3 196.4,726.7 196,726Z"/>
<path fill="#f0a078" stroke="#000" stroke-width="2.0" stroke-linejoin="round" d="M232,840 232.7,837 234.1,834.1 235,833 237.4,831.2 240.3,830.2 242,830 245.9,830.5 248,831.1 252,833 253.7,834.5 258.3,840.3 260,842 263.8,845 267.8,847.3 270,848 272.3,848.2 279.6,846.9 282,847 286.9,848.4 294,852 300.5,856.7 305.3,861.5 307.3,864.4 307.8,865.7 307.8,868.2 306.4,870.3 305.3,871.2 302.4,872.7 298.4,873.8 294,874 291.7,873.5 286.9,871.5 279.6,867.7 270,862 266,859.9 262.1,858.4 260,858 257.7,858.1 250.3,860 248,860 245.8,859.5 243.6,858.6 239.6,856.3 236.6,853.6 235.4,852 233.7,848.6 232.5,845.5 231.9,842.8 232,840Z"/>
<path fill="#f0a078" stroke="#000" stroke-width="2.0" stroke-linejoin="round" d="M627.6,675 629.5,671 630.9,668.8 632.5,667.1 634,666.4 635.7,666.9 637.6,668.4 639.5,670.3 642,674 642.1,675.3 640.9,677.8 637.1,682.1 635,683.7 634,684 632.1,683 628.2,678.2 627.4,676.2 627.6,675Z"/>
<path fill="#f0a078" stroke="#000" stroke-width="2.0" stroke-linejoin="round" d="M663.6,705 664.6,702.9 666.8,701.1 668,700.6 671,700.5 674.4,701.1 679.1,702.9 681.8,704.7 682.4,705.6 682.4,706.6 681,709 679,711 675.5,712.7 673,713 670.5,712.3 667,710 664.3,707.1 663.6,705Z"/>
<path fill="#f0a078" stroke="#000" stroke-width="2.0" stroke-linejoin="round" d="M733,683 734.6,682.9 736.4,683.6 738.3,684.9 742,688 745.3,691.4 748.4,695.7 753.3,703.3 756.6,709.1 760.4,717.6 762.3,723.2 763.6,728.8 764.3,734.6 764.3,737.4 764,740 762.3,745.4 761,748 759.6,749.9 758,751 756.3,751 754.3,750.1 752.2,748.6 746,743.2 741.9,738.9 736.1,731.4 732.2,725.7 729,720 727.8,717.2 725.9,711.5 725.3,708.7 725,706 725.2,701 726.2,696.3 729,688.8 731.5,684.2 733,683Z"/>
<path fill="#f0a078" stroke="#000" stroke-width="2.0" stroke-linejoin="round" d="M746.4,766 746.9,765.1 748,764.3 752,763 753.3,763 756.2,763.8 758,765 758,765.7 756.8,767.4 753.1,770.7 750.9,772 750,772 748,770.1 746.5,767.2 746.4,766Z"/>
<path fill="#f0a078" stroke="#000" stroke-width="2.0" stroke-linejoin="round" d="M356,886 356.4,884.5 357.5,882.9 362,878 366.1,872.6 367.5,871.2 369,870.4 370.6,870.3 372.3,870.7 374,871.6 377,874 379.6,877.6 380.8,879.8 382,884 381.8,885.8 381.2,887.6 380.3,889.2 378,892 375.1,894.1 371.7,895.3 370,895.6 366.7,895.2 362,893 357.4,889.1 356.4,887.5 356,886Z"/>
<path fill="#f0a078" stroke="#000" stroke-width="2.0" stroke-linejoin="round" d="M87,836 90,834.4 91.9,834.1 93.7,834.2 95,835 95.9,836.8 96.5,839.4 97,848 96.7,849.8 94.6,854.1 94,856 93,870 92.4,871.3 90.3,873 90,874 90.2,875.6 91.9,882 92,884 91.6,885.9 90.2,889.5 88,892 86.5,892.6 82.9,892.8 80,892 79.3,891.2 78.8,890.1 78.7,887.4 79.8,884.5 83.5,879.4 84,878 83.8,877 80,874 77.3,869.4 76,866 75.4,861.1 76,858 76.8,856.7 82,852 84.7,847.3 86,844 86.4,837.2 87,836Z"/>
<path fill="#f0a078" stroke="#000" stroke-width="2.0" stroke-linejoin="round" d="M718,594.5 715.2,595.1 714.8,595.9 717.1,598.2 718,599.6 721.3,607.2 722,610 723,617.3 723.7,625.8 724.6,646.3 725,650 727.6,660.2 730,666 731.3,668.4 734.4,672.5 738,676 742.6,679.1 760,688 761.5,689.5 765.1,694.5 766,695 766.6,694.4 767.3,689 768,688 769.2,688.5 772.5,691.8 774,692.1 775,690 775.6,684.5 776,676.5 775.8,658 775,650 773.6,643.3 765,620 764.3,614.2 764.4,602.6 763.3,597.9 760,594.5 753.3,592.8 743.8,592.4 733.6,592.9 718,594.5Z"/>
<path fill="#f2f3c8" stroke="#000" stroke-width="2.0" stroke-linejoin="round" d="M528,752 528.1,750.5 528.7,748.9 530.8,746.1 533.3,744.2 536.5,743.2 540,743 541.9,743.3 550,746 558.1,748 560,748 561.7,747.5 566.3,744.6 568,744 574,743.4 578,744 579.8,744.7 583.1,746.7 589.9,752.5 590.7,753.7 591,755 590.7,756.4 588.7,759.2 584.6,763.3 581.5,766 578,768 576.1,768.6 574.1,769 570,769.2 566,768.5 558,765 553.3,763.7 546,762 536,760.8 534,760 530.7,757.2 528.5,753.6 528,752Z"/>
<path fill="#f2f3c8" stroke="#000" stroke-width="2.0" stroke-linejoin="round" d="M646,594.5 642.5,595.2 642,596.1 646,599.6 647.9,603.4 650,606 654.6,610.1 658,612 659.6,612.3 664.5,611.6 666,612 667.3,613.1 676.8,627.4 680.3,632 682.7,634.4 684,635 685.5,635.1 687.2,634.7 688.8,634 692,632 693.3,630.6 696.7,625.4 698,624 699.5,623.1 704.6,621.8 706,621 708.4,618.6 709.9,615.6 710,614 709.4,612.3 708.3,610.4 704,605 699,599.6 699.5,598.5 702.6,596.2 702.3,595.2 699,594.5 679.1,593.9 654.1,594.1 646,594.5Z"/>
<path fill="#f2f3c8" stroke="#000" stroke-width="2.0" stroke-linejoin="round" d="M244,804 245,801.6 248,798 251,795.2 253,794.5 255.1,795.7 258.8,800.1 260.8,803.9 261,806 260.3,807.6 258.1,809.6 254.3,810.9 251.8,810.9 248,809.7 246.1,808.2 244.6,806.2 244,804Z"/>
<path fill="#f2f3c8" stroke="#000" stroke-width="2.0" stroke-linejoin="round" d="M378,956 378.8,954.9 380.1,954.1 383.7,952.7 395.6,949 402,948 404.4,948.3 406.3,949 412,952 419.5,954 422,954.8 424,956 425.6,957.6 430,966 436.5,975.9 439.5,979.7 443.3,983.6 444,985 444.1,986.7 443.7,988.6 442,994 441,1000 441.6,1001.4 444,1004.3 443.7,1005.6 441,1006.5 434.5,1007 424.8,1007.3 404.5,1007 398,1006.5 395.3,1005.7 395,1004.5 397.4,1001.6 398,1000 394.7,981.9 393.1,978.3 390.7,975.1 386.4,970.4 381.2,965.6 380,964 378.3,960.6 377.8,958.9 377.7,957.3 378,956Z"/>
<path fill="#f2f3c8" stroke="#000" stroke-width="2.0" stroke-linejoin="round" d="M476,1006.5 456.7,1005.7 454,1004.5 470.7,1001.6 476,1000 480.1,993.9 484,990 486.1,988.5 493.3,985 502,982.2 512,980 533.9,977.5 576.3,971 580,970 584.8,968.2 592,965 599.9,960.9 606.6,958.6 614,957 628,955 649.4,950 656,949 662.5,948.7 674.9,949.3 686,951 697.7,951.7 700,952.4 701.7,953.5 703.1,954.9 706,960 712,975 712.8,976.6 715.6,979.4 719.6,982.1 724,984 726.2,984.4 736,984 744.3,984.8 750,986 755.7,988 764,992 772.2,996.8 776,1000 781.6,1001.5 798.2,1004.4 795.4,1005.6 776,1006.5 730.4,1007 588.8,1007.3 521.6,1007 476,1006.5Z"/>
<path fill="#f2f3c8" stroke="#000" stroke-width="2.0" stroke-linejoin="round" d="M805,926 804.1,925.3 802.9,925.5 800.1,927.2 797.2,929.8 795.9,932 795.6,933 795.9,935.1 797.1,937.2 799.2,938.8 802.5,940.5 804,940.7 805,940 805.5,938 805.8,931.2 805,926Z"/>
<path fill="#f54b4b" stroke="#000" stroke-width="2.0" stroke-linejoin="round" d="M401,806 404.5,805.2 420.7,804.8 426,804 428,803.1 434,798 438.7,795 442,794 443.8,794.2 452,797 464,798 470.3,799.7 477,801.9 482.7,804.2 492,809 510,816 517.7,820.8 525.4,824.7 531.3,826.8 534,827 536.5,826.2 546,819 550.9,816.7 555.7,815.2 558,815 560.1,815.5 565.9,819.3 568,820 570.2,820.1 572.6,819.8 580,818 594,814 608,812 617.2,809.4 623.3,808.9 647.8,810.7 660,813 664.8,813.6 666.3,813.5 668,813 669.8,812 675.8,807.4 680.3,804.8 685.2,802.4 690,801 694,801.2 712,807 716.6,808.2 721.3,809 724,809 727,808.6 740,805 748.5,803.4 754,803 762.7,803.8 768,805 772.3,806.7 788,816 794.9,819.4 799,821 800.6,820.4 803.3,817.2 804.3,817.5 805,821 805.7,842.1 805.5,868.5 805,877 804.2,880.6 803.2,881.1 800.5,878 799,877 782.8,875.1 778,874 775.8,873.1 771.5,870.7 768,868 766.7,866.5 764,861.6 761.8,858.5 757.6,854.3 754.3,851.8 748.3,848.8 740.6,846.3 734.7,845.1 732,845 729.4,845.4 727,846.3 722.2,848.7 717.9,851.4 710,858 702.1,866 695.3,872.3 690.4,876.4 688,878 683.1,880.1 669.5,883.6 666,885 664.8,886.1 664,887.5 659.1,897.9 658,899 655.3,900.8 651.9,901.8 647.9,901.8 640.5,899.6 635.4,898.7 617.4,897.8 613,897 611.3,896 609.9,894.6 606,890 601.5,885.7 595.9,881.7 591.1,879.1 586,877 580.4,875.2 574.7,874.1 572,874 567.2,875 560,878 547,882.6 541.2,885.7 532,893 528.1,895 526,895 524.8,894.5 515.6,886.2 512,884 505.1,881.8 500,881 494.4,881 486,882 478.6,884.3 466.1,889.4 464,890 456.8,891.2 452,891 447.6,889.7 445.5,888.6 442,886 440.8,884.4 434.7,866.6 431.8,855.4 431,850 431.4,845.5 433,840 433.6,838.7 435.8,836 436,835 435,832.4 428.8,822.9 426,820 424.3,819 420.3,817.7 416,817 405.9,817.3 404,817 402.6,816.3 400.9,814.3 399.7,810.8 399.6,808.1 400.1,806.9 401,806Z"/>
<path fill="#f0a078" stroke="#000" stroke-width="2.0" stroke-linejoin="round" d="M447,835 447.4,834.2 448.4,833.4 451.5,831.9 453,831.6 454.5,831.8 458.1,832.9 459.4,833.7 460,834.4 459.6,835.2 457.1,837 454,838 450.6,837.3 447.6,835.7 447,835Z"/>
<path fill="#f54b4b" stroke="#000" stroke-width="2.0" stroke-linejoin="round" d="M387,845 388,844.3 390.4,843.7 397.1,842.6 400,842.4 402.7,842.6 408.3,843.7 410.2,844.3 411,845 410.2,845.7 405.6,847.5 400,848.4 393.7,847.5 388,845.7 387,845Z"/>
<path fill="#f54b4b" stroke="#000" stroke-width="2.0" stroke-linejoin="round" d="M150,748 151.3,746.9 153.1,746.2 155.2,746 162.7,746.3 168.9,747.5 174,749 176.7,750.4 179,753 180.4,755.5 182.5,761.6 184.6,770.9 185,775 184.5,777.8 183,782 180.8,785.7 178,789.1 174,793 171.7,794.8 171,796 171.2,796.7 172.3,798.3 183.1,808 187.8,812.9 189,815 189.1,817.4 188,821 185.8,823.7 183.1,825.4 180,826 178,825.8 175.9,825.2 173.1,823.2 170.7,820.2 169.5,817.7 168,812 166.5,799 165.8,797.2 164.8,795.6 163,794.5 148.9,789.9 143.9,787.8 143.2,787.1 143,786 144.3,782.5 148,776 152.3,769.7 153.4,767.7 154,766 153.8,764.6 150.7,761.5 150,760 149.1,752.4 149.3,749.9 150,748Z"/>
<path fill="#f0233c" stroke="#000" stroke-width="2.0" stroke-linejoin="round" d="M156,757 156.6,756.4 159,755.6 168.6,753.9 170,754 172.4,755.1 175,758 176.1,760.5 177,765 177.3,769.8 177,773 176.2,776 174.8,778.8 173,781 170.7,782.8 166.5,784.4 163.2,784.9 158.6,785 156.1,784.7 154,784 151.7,781.9 151,780 151.8,776.5 153.7,772.8 157,768 159,763.1 159,762 158.6,760.9 156.1,757.8 156,757Z"/>
<path fill="#f01414" stroke="#000" stroke-width="2.0" stroke-linejoin="round" d="M159,756 162.2,755.2 166.2,755 168.8,755.1 171,756 171.8,756.8 173.1,759.2 174,762 174.5,765.1 174.6,768.4 174.2,771.7 173.4,775.1 172,778 169.9,780 167.3,781.5 164.6,782.5 161.6,783 159,783 158.1,782.7 156.6,781.6 156,780 156.8,776.6 158.7,772.6 162,767 164,762 163.7,760.2 159.2,756.7 158.9,756.3 159,756Z"/>
<path fill="#f54b4b" stroke="#000" stroke-width="2.0" stroke-linejoin="round" d="M228,658 227.3,656.6 227.4,654.6 228,652.2 230,648 232.6,645.3 242.6,639.4 250,636 256.7,634.3 258.6,634.4 260,635 260.9,636.5 261.3,638.7 261.5,641.2 261,646 259.9,649.7 258.9,651.3 257.7,652.8 256,654 251,655.7 235.6,658.1 229.8,658.5 228,658Z"/>
<path fill="#f0233c" stroke="#000" stroke-width="2.0" stroke-linejoin="round" d="M230,650 231.2,648.6 235.1,645.8 240,643 245.8,640.2 254,637 256.9,636.7 257.7,636.9 258.1,637.4 258,638 255.8,640 250,644 240,650 233.2,655.6 232,656 231,655.6 230.2,654.5 229.6,653 229.5,651.5 230,650Z"/>
<path fill="#f54b4b" stroke="#000" stroke-width="2.0" stroke-linejoin="round" d="M137,860 137.6,857.1 138.3,856.2 140,855 142.2,854.2 143.5,854.1 144.8,854.3 146,855 148.4,857.9 155.3,870.1 158,874 161.8,877.5 168,882 176,885.8 177,887 177.3,888.6 177,890.5 175.2,894.3 172.4,897.5 168.3,900.4 166.1,901.4 164,902 162,902.1 159.9,901.8 155.9,900.3 152.2,897.4 150.6,895.3 147.4,890.5 144.6,885.4 142.1,879.7 140,874 138.3,868 137,860Z"/>
<path fill="#f54b4b" stroke="#000" stroke-width="2.0" stroke-linejoin="round" d="M120,960 121.7,956 124.2,953.2 128.3,950.9 130.9,950.1 156,944 167.1,940.4 170,940 173.1,940.2 183,942.3 186,942 188.8,940.8 191.4,939 193.8,936.7 198,932 199.5,929.6 202.6,921.9 204,920 207.6,917.5 209.7,916.8 214,916 216.2,915.9 221,916.5 226,918 231.6,920.8 250,932.1 253.8,936.2 256.9,941.2 259.7,948.1 260.4,952.1 260,956 259.3,958.1 257.2,962.3 255.7,964.3 252,967.5 249.8,968.9 244.8,971.1 239.1,972.7 235.9,973.3 229.3,973.9 222.7,973.9 216.1,973.1 210,972 198,968 191.8,967.4 188,968 184.6,969.9 180,974 174,982 167.9,988.7 166,990 161.6,992.2 156.6,993.6 154,994 151.3,994 145.7,993.4 140,992 134.1,990.1 128.4,987.5 126,986 121.9,982.6 120.2,980.6 118.9,978.4 118,976 117.7,973.1 118.4,966.1 120,960Z"/>
<path fill="#f0233c" stroke="#000" stroke-width="2.0" stroke-linejoin="round" d="M204,946 204.2,944.4 205.7,941 208,938 210.8,935.4 214.2,933.5 216,933 219.9,933.1 224,934.2 228.1,936.1 234.4,940.5 236,942 238,945.2 238.9,948.5 238.9,951.4 238,954 237.1,955.1 234.5,956.7 230.5,957.5 223.6,958.2 218.5,958.4 214,958 211.1,956.9 208,954 204.9,949.4 204,946Z"/>
<path fill="#f54b4b" stroke="#000" stroke-width="2.0" stroke-linejoin="round" d="M739,605 738.1,616.4 737.8,632.3 738,640 738.8,647.7 740,652 742.2,656.5 747,663.2 748.7,664.7 749.4,664.8 750,664 750.4,662.3 751,653.4 750.7,637.7 750,630 748.7,624.7 741.8,606.8 739.9,603.3 739.6,603.3 739,605Z"/>
<path fill="#f0233c" stroke="#000" stroke-width="2.0" stroke-linejoin="round" d="M468,842 469.7,840.3 472.1,839.7 474.9,839.9 481.9,841.6 485.1,843.4 488,846 491.1,849.4 493.5,853.2 494,855 493.8,856.7 491.8,860.2 489,863 487.5,864 484,865.3 474.8,866.9 472.1,867.2 469.7,866.7 468,865 467,861.5 466.6,856.3 466.6,850.7 467,845.5 468,842Z"/>
<path fill="#f0233c" stroke="#000" stroke-width="2.0" stroke-linejoin="round" d="M515,865 515.3,864.4 516.2,863.9 518.7,863.1 523,863.4 526.1,864.3 527,865 527.4,865.9 527.4,867.1 526.6,869.3 526,870 523.9,870.2 521.2,869.5 518.8,868.4 516.2,866.6 515,865Z"/>
<path fill="#f0233c" stroke="#000" stroke-width="2.0" stroke-linejoin="round" d="M584,836 585.6,835.1 588.7,834.9 600,835 612,832 619.7,831.1 624,831 626.7,831.3 628.4,832.2 629.5,834.1 629.9,837 629.7,838.6 629,840 627.7,841.2 621.5,844.7 620,846 619.2,847.5 618.7,852.5 618,854 616.8,855.5 613.5,858.3 611.7,859.3 608.4,860.2 606.8,860.2 603.6,859 600.4,856.5 594,848 586.2,840.1 584.4,837.7 584,836Z"/>
<path fill="#f0233c" stroke="#000" stroke-width="2.0" stroke-linejoin="round" d="M678,835 680.3,831 684,826.6 686,825 688.1,824.1 692.9,823.3 712,822 725,820.6 730.6,819.1 737.4,815.9 740,815 746.3,813.6 753,812.8 756,813 758.7,813.8 761.1,815.1 780,828 786.9,832.2 790,835 790.6,836.5 790.8,838 790.5,839.6 789,842 786.1,843.4 782.1,844 777.8,843.6 770.4,841.4 768,841 765.7,841.2 758.7,842.9 756,843 753.1,842.6 740,839 730.3,836.9 724,836 721,835.9 715.4,836.3 702.6,838.1 698,839 689.8,841.8 688,842 684.4,841.3 681.2,839.8 679.1,838.4 677.8,837.1 677.7,836.2 678,835Z"/>
<path fill="#f01414" stroke="#000" stroke-width="2.0" stroke-linejoin="round" d="M746,825 746.6,824.2 747.9,823.6 751.4,823.1 756.2,823.1 759.2,824 760,825 760.2,826.7 760,829 758.8,833.7 758,835 757.1,835.3 755.9,834.9 753.3,833.1 747.5,827.6 746.4,826.1 746,825Z"/>
<path fill="#f0233c" stroke="#000" stroke-width="2.0" stroke-linejoin="round" d="M782,852 782.7,851.5 785.4,850.9 788,851 789,851.3 791.6,853.3 792,854 791.8,855.8 790.8,857.5 790,858 787.7,858.2 785,857.5 784,857 782.5,855.1 781.8,852.8 782,852Z"/>
<path d="M290,594.5 288,599.6 286.7,607.5 282.9,620.3 281.5,623.5 280,626 278.4,627.5 276.7,628.4 274.8,628.8 270,629 266.7,628.8 254.8,627 252,627 250.4,627.7 249.8,629 249.1,631.9 248,633 246,633.7 238.1,635.1 236,636 234.4,637.2 230,644 224.8,649.5 223.2,651.6 222,654 221.3,656.8 221,660 221,670 222.3,683.3 222,686 221,688 219.6,689.4 216,692 214,694 202,710 194,720 185,733 178,741.2 176,743.2 173.2,745.2 171.3,745.9 170,746 166.3,745.5 160,744 153.2,741.2 152,741 151.2,741.3 150,745 147.1,749 146.3,750.5 146,752 146.3,753.6 148,757 150,760 153.8,763.7 154,765 152.3,768.6 148,775 144.3,781.6 142,785 140.4,786.1 130,786.5 120,786 115.1,785 114,785 110.8,786.4 108.2,789 107,791.5 105.7,795.2 104.6,803.1 102.8,804.9 97.6,808.3 96,810 94.7,812.4 90,824 84,834 81.2,844.3 80,846 78.3,846.8 71.8,846.6 70,847 67,849.1 64.8,852.2 63.5,856.1 63.3,861.2 64,866 65.8,869.9 68.4,873 70,874 72,874.4 78.8,873.6 80,874 80.2,875 78.7,878.1 74.4,884.1 66,894 49.5,915" fill="none" stroke="#000" stroke-width="13.8" stroke-linejoin="round"/>
<path d="M290,594.5 288,599.6 286.7,607.5 282.9,620.3 281.5,623.5 280,626 278.4,627.5 276.7,628.4 274.8,628.8 270,629 266.7,628.8 254.8,627 252,627 250.4,627.7 249.8,629 249.1,631.9 248,633 246,633.7 238.1,635.1 236,636 234.4,637.2 230,644 224.8,649.5 223.2,651.6 222,654 221.3,656.8 221,660 221,670 222.3,683.3 222,686 221,688 219.6,689.4 216,692 214,694 202,710 194,720 185,733 178,741.2 176,743.2 173.2,745.2 171.3,745.9 170,746 166.3,745.5 160,744 153.2,741.2 152,741 151.2,741.3 150,745 147.1,749 146.3,750.5 146,752 146.3,753.6 148,757 150,760 153.8,763.7 154,765 152.3,768.6 148,775 144.3,781.6 142,785 140.4,786.1 130,786.5 120,786 115.1,785 114,785 110.8,786.4 108.2,789 107,791.5 105.7,795.2 104.6,803.1 102.8,804.9 97.6,808.3 96,810 94.7,812.4 90,824 84,834 81.2,844.3 80,846 78.3,846.8 71.8,846.6 70,847 67,849.1 64.8,852.2 63.5,856.1 63.3,861.2 64,866 65.8,869.9 68.4,873 70,874 72,874.4 78.8,873.6 80,874 80.2,875 78.7,878.1 74.4,884.1 66,894 49.5,915" fill="none" stroke="#f5c8a0" stroke-width="11" stroke-linejoin="round"/>
<path d="M290,594.5 288,599.6 286.7,607.5 282.9,620.3 281.5,623.5 280,626 278.4,627.5 276.7,628.4 274.8,628.8 270,629 266.7,628.8 254.8,627 252,627 250.4,627.7 249.8,629 249.1,631.9 248,633 246,633.7 238.1,635.1 236,636 234.4,637.2 230,644 224.8,649.5 223.2,651.6 222,654 221.3,656.8 221,660 221,670 222.3,683.3 222,686 221,688 219.6,689.4 216,692 214,694 202,710 194,720 185,733 178,741.2 176,743.2 173.2,745.2 171.3,745.9 170,746 166.3,745.5 160,744 153.2,741.2 152,741 151.2,741.3 150,745 147.1,749 146.3,750.5 146,752 146.3,753.6 148,757 150,760 153.8,763.7 154,765 152.3,768.6 148,775 144.3,781.6 142,785 140.4,786.1 130,786.5 120,786 115.1,785 114,785 110.8,786.4 108.2,789 107,791.5 105.7,795.2 104.6,803.1 102.8,804.9 97.6,808.3 96,810 94.7,812.4 90,824 84,834 81.2,844.3 80,846 78.3,846.8 71.8,846.6 70,847 67,849.1 64.8,852.2 63.5,856.1 63.3,861.2 64,866 65.8,869.9 68.4,873 70,874 72,874.4 78.8,873.6 80,874 80.2,875 78.7,878.1 74.4,884.1 66,894 49.5,915" fill="none" stroke="#000" stroke-width="8.2" stroke-linejoin="round"/>
<path d="M290,594.5 288,599.6 286.7,607.5 282.9,620.3 281.5,623.5 280,626 278.4,627.5 276.7,628.4 274.8,628.8 270,629 266.7,628.8 254.8,627 252,627 250.4,627.7 249.8,629 249.1,631.9 248,633 246,633.7 238.1,635.1 236,636 234.4,637.2 230,644 224.8,649.5 223.2,651.6 222,654 221.3,656.8 221,660 221,670 222.3,683.3 222,686 221,688 219.6,689.4 216,692 214,694 202,710 194,720 185,733 178,741.2 176,743.2 173.2,745.2 171.3,745.9 170,746 166.3,745.5 160,744 153.2,741.2 152,741 151.2,741.3 150,745 147.1,749 146.3,750.5 146,752 146.3,753.6 148,757 150,760 153.8,763.7 154,765 152.3,768.6 148,775 144.3,781.6 142,785 140.4,786.1 130,786.5 120,786 115.1,785 114,785 110.8,786.4 108.2,789 107,791.5 105.7,795.2 104.6,803.1 102.8,804.9 97.6,808.3 96,810 94.7,812.4 90,824 84,834 81.2,844.3 80,846 78.3,846.8 71.8,846.6 70,847 67,849.1 64.8,852.2 63.5,856.1 63.3,861.2 64,866 65.8,869.9 68.4,873 70,874 72,874.4 78.8,873.6 80,874 80.2,875 78.7,878.1 74.4,884.1 66,894 49.5,915" fill="none" stroke="#f2f3c8" stroke-width="5.4" stroke-linejoin="round"/>
<path d="M290,594.5 288,599.6 286.7,607.5 282.9,620.3 281.5,623.5 280,626 278.4,627.5 276.7,628.4 274.8,628.8 270,629 266.7,628.8 254.8,627 252,627 250.4,627.7 249.8,629 249.1,631.9 248,633 246,633.7 238.1,635.1 236,636 234.4,637.2 230,644 224.8,649.5 223.2,651.6 222,654 221.3,656.8 221,660 221,670 222.3,683.3 222,686 221,688 219.6,689.4 216,692 214,694 202,710 194,720 185,733 178,741.2 176,743.2 173.2,745.2 171.3,745.9 170,746 166.3,745.5 160,744 153.2,741.2 152,741 151.2,741.3 150,745 147.1,749 146.3,750.5 146,752 146.3,753.6 148,757 150,760 153.8,763.7 154,765 152.3,768.6 148,775 144.3,781.6 142,785 140.4,786.1 130,786.5 120,786 115.1,785 114,785 110.8,786.4 108.2,789 107,791.5 105.7,795.2 104.6,803.1 102.8,804.9 97.6,808.3 96,810 94.7,812.4 90,824 84,834 81.2,844.3 80,846 78.3,846.8 71.8,846.6 70,847 67,849.1 64.8,852.2 63.5,856.1 63.3,861.2 64,866 65.8,869.9 68.4,873 70,874 72,874.4 78.8,873.6 80,874 80.2,875 78.7,878.1 74.4,884.1 66,894 49.5,915 49.5,594.5Z" fill="#fff" stroke="#000" stroke-width="1.4" stroke-linejoin="round"/>
<path d="M157,743 152.5,745.3 150,747 148.2,749.2 147.1,751.7 147,753 148.1,755.8 151,760 154,762.8 154.8,763.8 155,765 153.6,768.3 150,774 145,783" fill="none" stroke="#000" stroke-width="5" stroke-linejoin="round" stroke-linecap="round"/>
<path d="M741,594.5 743,599.6 747.1,604.5 748,606 748.5,607.8 749.3,614.1 750,616 751.2,617.6 755.8,621.8 757,624 757.7,626.9 758.5,633.9 759.2,646.6 759.4,661.9 760,666 761.2,669.2 762.8,671.9 772.1,682.8 774,686 774.4,687.9 774.5,694.1 775,696 776.1,697.7 780.8,702.3 782,704 782.7,705.9 783.4,712 784,714 790,724 790.6,726.1 791.3,732.6 792,734 793.2,734.8 794.7,735.1 805,735" fill="none" stroke="#000" stroke-width="15.8" stroke-linejoin="round"/>
<path d="M741,594.5 743,599.6 747.1,604.5 748,606 748.5,607.8 749.3,614.1 750,616 751.2,617.6 755.8,621.8 757,624 757.7,626.9 758.5,633.9 759.2,646.6 759.4,661.9 760,666 761.2,669.2 762.8,671.9 772.1,682.8 774,686 774.4,687.9 774.5,694.1 775,696 776.1,697.7 780.8,702.3 782,704 782.7,705.9 783.4,712 784,714 790,724 790.6,726.1 791.3,732.6 792,734 793.2,734.8 794.7,735.1 805,735" fill="none" stroke="#f0a078" stroke-width="13" stroke-linejoin="round"/>
<path d="M741,594.5 743,599.6 747.1,604.5 748,606 748.5,607.8 749.3,614.1 750,616 751.2,617.6 755.8,621.8 757,624 757.7,626.9 758.5,633.9 759.2,646.6 759.4,661.9 760,666 761.2,669.2 762.8,671.9 772.1,682.8 774,686 774.4,687.9 774.5,694.1 775,696 776.1,697.7 780.8,702.3 782,704 782.7,705.9 783.4,712 784,714 790,724 790.6,726.1 791.3,732.6 792,734 793.2,734.8 794.7,735.1 805,735" fill="none" stroke="#000" stroke-width="11" stroke-linejoin="round"/>
<path d="M741,594.5 743,599.6 747.1,604.5 748,606 748.5,607.8 749.3,614.1 750,616 751.2,617.6 755.8,621.8 757,624 757.7,626.9 758.5,633.9 759.2,646.6 759.4,661.9 760,666 761.2,669.2 762.8,671.9 772.1,682.8 774,686 774.4,687.9 774.5,694.1 775,696 776.1,697.7 780.8,702.3 782,704 782.7,705.9 783.4,712 784,714 790,724 790.6,726.1 791.3,732.6 792,734 793.2,734.8 794.7,735.1 805,735" fill="none" stroke="#f5c8a0" stroke-width="8.2" stroke-linejoin="round"/>
<path d="M741,594.5 743,599.6 747.1,604.5 748,606 748.5,607.8 749.3,614.1 750,616 751.2,617.6 755.8,621.8 757,624 757.7,626.9 758.5,633.9 759.2,646.6 759.4,661.9 760,666 761.2,669.2 762.8,671.9 772.1,682.8 774,686 774.4,687.9 774.5,694.1 775,696 776.1,697.7 780.8,702.3 782,704 782.7,705.9 783.4,712 784,714 790,724 790.6,726.1 791.3,732.6 792,734 793.2,734.8 794.7,735.1 805,735" fill="none" stroke="#000" stroke-width="6.2" stroke-linejoin="round"/>
<path d="M741,594.5 743,599.6 747.1,604.5 748,606 748.5,607.8 749.3,614.1 750,616 751.2,617.6 755.8,621.8 757,624 757.7,626.9 758.5,633.9 759.2,646.6 759.4,661.9 760,666 761.2,669.2 762.8,671.9 772.1,682.8 774,686 774.4,687.9 774.5,694.1 775,696 776.1,697.7 780.8,702.3 782,704 782.7,705.9 783.4,712 784,714 790,724 790.6,726.1 791.3,732.6 792,734 793.2,734.8 794.7,735.1 805,735" fill="none" stroke="#f2f3c8" stroke-width="3.4" stroke-linejoin="round"/>
<path d="M741,594.5 743,599.6 747.1,604.5 748,606 748.5,607.8 749.3,614.1 750,616 751.2,617.6 755.8,621.8 757,624 757.7,626.9 758.5,633.9 759.2,646.6 759.4,661.9 760,666 761.2,669.2 762.8,671.9 773.2,684.3 774,686 774.4,687.9 774.5,694.1 775,696 776.1,697.7 780.8,702.3 782,704 782.7,705.9 783.4,712 784,714 790,724 790.6,726.1 791.3,732.6 792,734 793.2,734.8 796.4,735.1 805,735 805,594.5Z" fill="#fff" stroke="#000" stroke-width="1.4" stroke-linejoin="round"/>
<path d="M49.5,931 55,933 59.1,932.4 60.5,932.5 62,933 63.7,934.3 67.5,938.2 70,942 70.2,943.5 69.8,944.9 68,948 68.2,948.4 68.7,948.3 69.2,948 49.5,950" fill="none" stroke="#000" stroke-width="7.4" stroke-linejoin="round"/>
<path d="M49.5,931 55,933 59.1,932.4 60.5,932.5 62,933 63.7,934.3 67.5,938.2 70,942 70.2,943.5 69.8,944.9 68,948 68.2,948.4 68.7,948.3 69.2,948 49.5,950" fill="none" stroke="#f2f3c8" stroke-width="4.6" stroke-linejoin="round"/>
<path d="M49.5,931 55,933 60.5,932.5 62,933 63.7,934.3 67.5,938.2 70,942 70.2,943.5 69.8,944.9 68,948 68.2,948.4 69.2,948.1 68,948 49.5,950 49.5,931Z" fill="#fff" stroke="#000" stroke-width="1.4" stroke-linejoin="round"/>
<path fill="none" stroke="#000" stroke-width="1.7" stroke-linejoin="round" d="M128,918.6 133,915.1 134.4,913.8 136,913.5 140,913.9 145,915.6 150,915.1 154,915.4 156.4,916.2 156.8,916.6 157.1,917.7 156.7,919.1 156,919.6 150,920.1 149.1,920.7 147.8,922.5 147,923.1 145.9,923.5 143.2,923.7 142,923.6 140.9,923.1 138.9,921.6 138,921.1 137.2,921 135,921.6 133.5,922.9 133,923.1 131.5,922.4 130,921.1 128,918.6M320,940.1 327.4,941.5 333.4,944.1 335,945.1 336.2,946.1 337.6,948.3 338.2,950.1 337.9,950.2 337.4,950.1 332.4,946.5 327.6,943.9 320,940.8"/>
<rect x="468.7" y="804.7" width="165" height="97" fill="none" stroke="#000" stroke-width="9.4"/>
</g>
<rect x="54.8" y="600" width="744.4" height="400.3" fill="none" stroke="#000" stroke-width="1.8"/>
<path d="M46.8,600H54.8M46.8,700.1H54.8M46.8,800.1H54.8M46.8,900.2H54.8M46.8,1000.3H54.8M137.5,1000.3V1008.3M302.9,1000.3V1008.3M468.4,1000.3V1008.3M633.8,1000.3V1008.3M799.2,1000.3V1008.3" stroke="#000" stroke-width="1.8" fill="none"/>
<text class="tk" x="3.2" y="609.1" textLength="37.6" lengthAdjust="spacingAndGlyphs">20S</text>
<text class="tk" x="3.2" y="709.2" textLength="37.6" lengthAdjust="spacingAndGlyphs">30S</text>
<text class="tk" x="3.2" y="809.2" textLength="37.6" lengthAdjust="spacingAndGlyphs">40S</text>
<text class="tk" x="3.2" y="909.3" textLength="37.6" lengthAdjust="spacingAndGlyphs">50S</text>
<text class="tk" x="3.2" y="1009.4" textLength="37.6" lengthAdjust="spacingAndGlyphs">60S</text>
<text class="tk" x="117.6" y="1029.9" textLength="41" lengthAdjust="spacingAndGlyphs">60W</text>
<text class="tk" x="283" y="1029.9" textLength="41" lengthAdjust="spacingAndGlyphs">40W</text>
<text class="tk" x="448.5" y="1029.9" textLength="41" lengthAdjust="spacingAndGlyphs">20W</text>
<text class="tk" x="627.7" y="1029.9" textLength="13.4" lengthAdjust="spacingAndGlyphs">0</text>
<text class="tk" x="780.8" y="1029.9" textLength="38" lengthAdjust="spacingAndGlyphs">20E</text>
<text class="ti" y="581.7" xml:space="preserve"><tspan x="199" textLength="76.6" lengthAdjust="spacingAndGlyphs">8-yr</tspan> <tspan x="296.4" textLength="86.8" lengthAdjust="spacingAndGlyphs">mean</tspan> <tspan x="404.1" textLength="57.6" lengthAdjust="spacingAndGlyphs">SST</tspan> <tspan x="481.2" textLength="64.9" lengthAdjust="spacingAndGlyphs">stdv</tspan> <tspan x="567" textLength="88.2" lengthAdjust="spacingAndGlyphs">(Obs)</tspan></text>
<text class="pl" x="51" y="587">(c)</text>
<path d="M134.8,1051.7L218,1041.7V1061.6Z" fill="#ffffff" stroke="#1a1a1a" stroke-width="0.9" stroke-linejoin="miter"/>
<rect x="218" y="1041.7" width="83.3" height="19.9" fill="#f2f3c8" stroke="#1a1a1a" stroke-width="0.9"/>
<rect x="301.3" y="1041.7" width="83.3" height="19.9" fill="#f5c8a0" stroke="#1a1a1a" stroke-width="0.9"/>
<rect x="384.6" y="1041.7" width="83.3" height="19.9" fill="#f0a078" stroke="#1a1a1a" stroke-width="0.9"/>
<rect x="468" y="1041.7" width="83.3" height="19.9" fill="#f54b4b" stroke="#1a1a1a" stroke-width="0.9"/>
<rect x="551.3" y="1041.7" width="83.3" height="19.9" fill="#f0233c" stroke="#1a1a1a" stroke-width="0.9"/>
<path d="M718.6,1051.7L634.6,1041.7V1061.6Z" fill="#f01414" stroke="#1a1a1a" stroke-width="0.9"/>
<text class="cb" x="212.9" y="1078" textLength="10.9" lengthAdjust="spacingAndGlyphs">0</text>
<text class="cb" x="282.6" y="1078" textLength="38" lengthAdjust="spacingAndGlyphs">0.05</text>
<text class="cb" x="371.4" y="1078" textLength="27.2" lengthAdjust="spacingAndGlyphs">0.1</text>
<text class="cb" x="449.2" y="1078" textLength="38" lengthAdjust="spacingAndGlyphs">0.15</text>
<text class="cb" x="538" y="1078" textLength="27.2" lengthAdjust="spacingAndGlyphs">0.2</text>
<text class="cb" x="615.9" y="1078" textLength="38" lengthAdjust="spacingAndGlyphs">0.25</text>
<text class="un uc" x="720.3" y="1079.3">°C</text>
<clipPath id="cd"><rect x="884.5" y="601.9" width="744.3" height="400"/></clipPath>
<g clip-path="url(#cd)">
<rect x="884.5" y="601.9" width="744.3" height="400" fill="#f0a078"/>
<path fill="#f5c8a0" stroke="#000" stroke-width="2.0" stroke-linejoin="round" d="M931,595.9 885.9,596.7 880.1,597.8 919.4,600.6 931,602 936,610 938.1,615.8 939,620 939.5,624.7 939.4,629.6 939,632 938.3,634.4 936.3,639.2 928,656 920,670 914,678.2 913,680 912.3,681.7 911.8,684.9 912.4,689.5 913.7,692.5 916,696 931,714 935.4,720.2 937.8,725 940,730 944,744 947.4,752.6 951.4,760.5 956.2,767.2 958,769 961.7,772 963.6,773.1 968,775 973.2,776.1 998,779 1010.8,779.9 1020.2,779.8 1041.8,778.1 1050,777 1054,776.1 1062,773.7 1098,761.5 1110,758 1126,754.1 1138.2,750.3 1156.7,743.3 1175.6,734.3 1182,730 1185.1,726.9 1194.5,715.6 1198,712 1201.7,708.7 1230,686.7 1238,680 1284.7,633.4 1290,629 1294.8,626.1 1297.2,625.2 1302,624 1307.3,623.7 1310,623.9 1316,625 1323,627.3 1330.5,630.4 1337.3,633.6 1343.7,637.2 1353.1,643 1366,652 1409.5,680.9 1426.5,692.5 1434,698 1447,709.2 1461.7,723.5 1467.4,730.3 1469.4,734.1 1470,736 1470.3,740.1 1469.9,742.1 1469.2,744.1 1468,746 1466.3,747.7 1461.6,750.9 1453.1,755.6 1440,762 1425.6,768.1 1414.5,774.5 1407.2,779.5 1401.1,784.5 1395.9,789.5 1390.7,795.8 1388.7,800.1 1386.2,807.1 1384.6,813 1383.8,819.2 1384,829.2 1383.6,832 1382.8,834.4 1381.7,836.5 1374.3,847.6 1373.4,849.3 1373,851 1373.3,852.6 1375.2,855.4 1378,858 1381.4,860.4 1385.7,862.3 1388,863 1393.3,863.8 1399.1,863.8 1404.8,863.2 1424.6,857.5 1432,856 1460,854 1464.5,853.3 1480,850 1496,847.4 1504.1,846.9 1520,847.4 1525.4,846.8 1534.4,844.2 1544,840 1555.6,836.1 1561.9,832.8 1564.9,830.3 1566,829 1567.5,826 1567.9,824.4 1568,821 1567.6,819.3 1566.2,815.7 1562.7,810 1557.8,803.9 1554.1,800.3 1546,794 1540.9,788.2 1536.7,781.7 1533.6,774.3 1533,772 1532.6,767.7 1533.3,763.7 1534,762 1535.1,760.5 1538,757.8 1542,756 1547.2,755 1553.1,754.7 1556,755 1561.6,756.4 1567.2,758.6 1572.8,761.5 1581.1,767.1 1590.3,772.8 1600,778 1606.5,780.5 1616,783 1621.8,783.7 1629,784 1630.7,787.1 1633.2,797.6 1634.1,796.1 1634.8,784 1646.4,755.4 1669,713.3 1685.8,666.6 1679.9,624.5 1634.8,595.9 1527.8,583.8 1370.2,582.1 1195.6,586.4 1038,592.5 931,595.9Z"/>
<path fill="#f0a078" stroke="#000" stroke-width="2.0" stroke-linejoin="round" d="M985,595.9 978.9,596.7 978,597.7 983.2,600.4 985,602 987.5,607.5 996.2,623.1 1001.9,631.8 1008,640 1012.1,644.6 1016.2,648.5 1020.9,652.1 1023.5,653 1026.7,652.6 1028.4,651.8 1032.1,649.4 1036,646.3 1044,638 1052,628 1055.1,625.3 1060,622 1073.3,615.2 1076,613.3 1077,612 1077.8,610.3 1079,602 1080.6,600.4 1085.9,597.7 1085,596.7 1079,595.9 1064.7,595.4 1020.3,595.2 985,595.9Z"/>
<path fill="#f0a078" stroke="#000" stroke-width="2.0" stroke-linejoin="round" d="M1392,595.9 1390.2,596.8 1389.7,598.1 1390.2,599.5 1392,602 1394.6,603.3 1404.7,605.1 1410,604.7 1416.6,603.2 1418,602.4 1419.1,601.2 1420,599.8 1420.4,598.2 1419.8,596.8 1418,595.9 1414,595.4 1401.8,595.1 1392,595.9Z"/>
<path fill="#f5c8a0" stroke="#000" stroke-width="2.0" stroke-linejoin="round" d="M878.5,595.9 881.5,589.1 885.8,588.1 890.7,590.5 895,593.8 899.2,596.6 899.4,597.5 898.2,600.2 898,602 898.7,613.1 899.6,618.8 901.9,627.3 902,630 901.3,632.5 896,642 894.2,647.5 891.3,658.8 886.5,681.5 885.8,686.3 885.5,692.3 882.5,702 880.9,705.7 879.5,705.9 878.5,700 877.8,684.6 877.1,661.3 876.8,635.3 877.1,611.8 878.5,595.9Z"/>
<path fill="#f57864" stroke="#000" stroke-width="2.0" stroke-linejoin="round" d="M906,610 907.2,606.7 908.2,605.4 910,604 910.8,604.1 911.7,604.6 913.4,606.7 914,608 915,613.7 915,618 914.7,620.1 912,628 909,632 909,633 909.9,634.2 914.8,638.4 916,640 917,643.8 917.2,648 916.7,652.1 915.6,656.4 914,660 913,661.4 911.9,662.6 909.3,664.4 906.6,665.5 903.5,665.9 902.1,665.7 901,665 900.2,663.8 899.3,660.1 899,656 899.4,652 901,646 902.9,642.5 907.9,635.3 908.5,633 906,614.4 906,610Z"/>
<path fill="#f57864" stroke="#000" stroke-width="2.0" stroke-linejoin="round" d="M897,720 898.1,715.1 900,710.8 901,710 902.1,710.4 904.8,713.9 907.7,719.6 908.8,722.8 909,726 908.3,729.3 906.8,732.6 904,736.9 901.9,738.9 901,739 900.2,738.1 899,734.3 897.2,726.1 896.8,722 897,720Z"/>
<path fill="#f2f3c8" stroke="#000" stroke-width="2.0" stroke-linejoin="round" d="M1024,726 1024.2,724.4 1025.7,721 1028,718 1031,715.6 1036,713 1039.9,711.7 1042,712 1043.7,713.8 1044.8,716.6 1045,718 1044.4,722.8 1043,726 1041.9,727.6 1039.1,730.8 1037.5,732.1 1036,733 1032.7,733.8 1029.4,733.6 1028,733 1026.8,732.1 1024.8,729.2 1024,726Z"/>
<path fill="#f57864" stroke="#000" stroke-width="2.0" stroke-linejoin="round" d="M878.5,857 879.1,847.5 880,846.6 882.5,855.2 884.4,857 912.9,840.7 927.1,833.4 942.9,826.1 948.9,824.2 954.5,823.3 962.8,823.1 980.1,825.9 990,827 1001.8,827.4 1022.3,827.4 1030,827 1036.7,826.1 1046,824 1062,819.6 1069,818.5 1080,817.6 1091.9,817.5 1100,818 1120,821 1131.2,822 1137,821.9 1146.5,821.1 1153.7,819.9 1165.9,817.5 1170,817 1178,817.1 1190,818 1210,819 1219.9,820.6 1231.7,823.3 1237.2,824.9 1242.9,827.3 1248.7,830.5 1254,834 1258.4,837.7 1264,844 1269,852.2 1273.3,860.8 1278,872 1287.5,891.3 1290,896 1293,900.3 1298,906 1301.8,908.8 1311.8,913.9 1316.4,915.3 1324.7,915.6 1365.8,913.3 1396.5,912.4 1460,914.4 1506.2,917 1514.1,916.9 1526.4,916.1 1533.2,915 1560,908 1576,905 1584.8,901.5 1600,894 1608.1,891.5 1629,886.4 1630.8,884.2 1633.3,877.2 1634.2,878.2 1634.8,886 1647.3,904.5 1671.5,931.8 1689.5,962 1683.3,989.4 1634.8,1007.9 1519.8,1018.1 1350.4,1023.9 1162.9,1024.6 993.5,1019.5 878.5,1007.9 830,985 823.8,951.2 841.8,913.7 866,879.9 878.5,857Z"/>
<path fill="#f54b4b" stroke="#000" stroke-width="2.0" stroke-linejoin="round" d="M878.5,884 879.2,876.1 880.3,875.3 882.9,882.3 884.4,884 891.9,880.4 896.2,879.1 903.4,878.1 911.2,878.1 923.6,879.5 980,888 995.6,889.6 1020.8,891.5 1035.9,891.3 1106.3,887.4 1116.9,885.9 1135.7,881.9 1142.8,881.3 1150,881.4 1157.1,882 1162,882.8 1170.4,885.1 1183.9,889.7 1188,892 1189.3,893.4 1190.1,894.9 1190.9,898.2 1190.9,901.9 1189.8,905.9 1188,910 1185.3,914.1 1181.8,918.1 1178.1,921.8 1174.1,925 1168,929.3 1151.9,938.7 1148.2,941.5 1144.6,944.8 1142,948 1140.9,950.5 1140.8,952.8 1142,956.7 1143.8,959.6 1146.4,962.4 1154,968 1185.8,986.1 1192.8,989 1202.4,992.1 1213.7,994.8 1226,997 1241.7,998.8 1260.2,999.3 1274.9,998.6 1294,996 1327.5,989.2 1336,987 1342.7,984.4 1362.6,975.1 1370,972 1381.9,968.1 1393.8,965.1 1405.4,962.9 1415.4,961.9 1433.8,961.1 1452,961.1 1464,961.6 1476,962.5 1500,965.6 1518,968.7 1560,977 1593.3,982.6 1598,984 1600.1,985 1603.6,987.5 1606,990 1607,992.4 1607.1,994.9 1606.8,997 1605,1001 1616.5,1002.4 1639.7,1004 1657.2,1005.5 1651.5,1006.9 1494.6,1010.3 1331.8,1014.3 1151.7,1017.2 988.9,1015.9 878.5,1007.9 831.9,989.1 825.9,961.3 843.2,930.6 866.5,902.8 878.5,884Z"/>
<path fill="#f0233c" stroke="#000" stroke-width="2.0" stroke-linejoin="round" d="M878.5,909 879.2,902.7 880.2,901.9 882.8,907.5 884.4,909 896,908 904.3,908.4 910,909 918.4,910.5 926.8,913 942.9,920.3 950,924 988.2,949.6 997.8,957.6 1001.2,960.8 1004,964 1005.9,967.2 1010.6,978.4 1011.2,981.6 1011.2,986.5 1010.6,989.3 1009.6,991.8 1006.9,995.1 1002,999 999.4,1000.3 999,1001 1000.7,1002.2 1004.6,1003.7 1007.5,1005.4 1006.7,1006.9 953.7,1013.1 923.8,1015.4 896.8,1014.3 878.5,1007.9 870.7,992.9 869.5,970.7 872.3,946.2 876.2,924 878.5,909Z"/>
<path fill="#f01414" stroke="#000" stroke-width="2.0" stroke-linejoin="round" d="M878.5,956 879.3,952.6 880.4,952 884.4,956 887.2,957.9 892,962 910.2,976.4 915.2,981.2 919,986 920.6,989.2 922.3,995.5 923,1001 923.8,1002.5 926.3,1005.6 925.9,1007 923,1007.9 906.3,1010.9 895.2,1012 885.3,1011.3 878.5,1007.9 875.6,1000 875,988.4 875.9,975.5 878.5,956Z"/>
<path fill="#f0233c" stroke="#000" stroke-width="2.0" stroke-linejoin="round" d="M1404,1007.9 1398.4,1006.9 1397.2,1005.5 1398.8,1003.9 1404,1001 1406.1,1000 1409.1,999.1 1423.7,996.4 1431.8,995.5 1440,995 1448.2,995 1460,995.6 1466.9,996.4 1481.7,999 1486.4,1000.1 1492.9,1003.8 1494.6,1005.4 1493.6,1006.9 1488,1007.9 1475.2,1008.5 1435.6,1008.7 1416.8,1008.5 1404,1007.9Z"/>
<path fill="none" stroke="#000" stroke-width="1.7" stroke-linejoin="round" d="M1131.8,602 1128.3,604.2 1126.6,605.5 1125.4,607.5 1124.9,610.6 1125,618.4 1124.4,621.5 1122.9,623.4 1120.9,624.6 1116.4,626.5 1110,630.5 1107.4,631.5 1104.2,632 1094.4,632.5 1093.1,632.9 1091.4,634.5 1085.5,637.4 1077.4,641.9 1075.4,643.5 1071.2,648.1 1069.2,650.7 1065.8,656.3 1063.2,662.3 1062.4,665.5 1062.1,669 1062.5,676.2 1062.4,679.5 1061.3,684.9 1059.4,689.5 1058.1,691.6 1053.4,697.5 1048.4,705.5 1042.4,711.5 1035.4,721.5 1030.9,726.5 1029.4,728.5 1023.4,739.5 1019.8,744.6 1017.7,746.8 1015.4,748.5 1012.7,749.5 1009.6,749.9 1006.5,750 1000.4,749.6 997.3,749.1 991.4,747.5 988.6,746.2 983.3,743.2 981.4,742.5 980.1,742.6 979.4,743.2 979.1,744.2 979.4,745.5 980.4,747.2 985.4,753.5 988.4,757.9 990.5,761.5 994.5,769.4 994.6,770.2 994.4,771.5 993.6,773.5 990.8,778.6 989.4,780.5 988.2,781.7 987,782.4 982.8,784 977.4,785.5 971.6,788.6 969.4,789.5 967,790.2 955,792.3 953,792.6 951.4,792.5 950.2,791.8 948.4,789 948.1,788.9 947.8,789.8 948.1,791.6 949.4,795.5 950.4,797.7 950.4,798.5 948,802.1 947.4,803.5 947.5,805.2 948.5,809 948.4,810.5 947.6,811.6 946.5,812.5 943.4,813.5 941.6,813.6 935.4,812.5 929,809.9 927.4,809.5 926.2,809.8 925.3,810.4 924.4,812.5 924.4,813.8 925.4,818.5 925.6,822.6 926.4,823.5 928.3,823.8 933.5,823.4 935.4,823.5 936.3,824 936.7,824.8 937.1,828.2 936.9,829 936.4,829.5 935.5,829.7 931.4,829.5 928.4,829.9 926.4,830.5 926.8,830.9 929,831.8 929.4,832.5 928.8,833.4 925.4,836.5 924.2,838.4 923.4,840.5 922.4,846.5 921.8,848.7 921.3,849.6 920.4,850.5 918.8,851.3 914.3,852.6 912.4,853.5 910.9,854.6 908.4,857.2 905.9,860.9 905.5,862.2 905.4,863.5 905.8,865 906.5,866.6 908.4,869.5 910.1,871.2 912.4,872.5 918,873.8 919.4,874.5 920.1,875.6 920.5,876.9 920.4,879.5 920,881.5 919.5,882.5 918.4,883.5 909.4,888.5 906.4,890.9 905.3,892.1 904.4,893.5 903.9,895.2 903.8,899 903.4,900.5 902.7,901.5 899.4,903.5 894.7,905.5 893.4,906.5 892.5,907.8 891.9,909.2 891.4,912.5 891.6,914.2 892.7,917.8 894.3,921.2 896.5,924.4 898,926.1 899.4,926.5M885.4,927.5 888.3,925.7 889.4,925.5 890.6,925.6 893.2,926.7 894.4,927.5 896.6,929.8 898.4,932.5 899.7,936.3 900.4,937.5 902.5,939.5 909.1,944.1 913.4,946.5 916,947.3 923.4,949 925,949.8 924.9,950.2 924.4,950.5 917.4,951.5 909.4,953.5 902.9,954.1 901.4,954.5 900.8,955.4 900.8,957.9 900.4,958.5 899.2,958.4 895.9,956.9 894.4,956.5 893.1,956.6 889.4,957.5 888.3,957.4 885.4,956.5M957.4,920 962.4,916.5 963.8,915.2 965.4,914.9 969.4,915.3 974.4,917 979.4,916.5 983.4,916.8 985.8,917.6 986.2,918 986.5,919.1 986.1,920.5 985.4,921 979.4,921.5 978.5,922.1 977.2,923.9 976.4,924.5 975.3,924.9 972.6,925.1 971.4,925 970.3,924.5 968.3,923 967.4,922.5 966.6,922.4 964.4,923 962.9,924.3 962.4,924.5 960.9,923.8 959.4,922.5 957.4,920M1149.4,941.5 1156.8,942.9 1162.8,945.5 1164.4,946.5 1165.6,947.5 1167,949.7 1167.6,951.5 1167.3,951.6 1166.8,951.5 1161.8,947.9 1157,945.3 1149.4,942.2M1572.4,602 1576.1,612.4 1577.4,615.5 1578.9,618 1582.2,622.4 1583.4,625.5 1584,629.8 1584.1,640.3 1584.4,645.5 1585,650.6 1587.4,665.5 1589.1,673.1 1590.1,676.4 1591.4,679.5 1593.2,682.2 1597.4,686.8 1599.4,689.5 1601,692.6 1605.4,703.5 1611.8,717.3 1613.4,721.5 1614.1,725 1614.4,733.5 1615.3,737.8 1616,739.6 1617.4,741.5 1619.6,743.5 1628.4,749.5"/>
</g>
<rect x="884.5" y="601.9" width="744.3" height="400" fill="none" stroke="#000" stroke-width="1.8"/>
<path d="M876.5,601.9H884.5M876.5,701.9H884.5M876.5,801.9H884.5M876.5,901.9H884.5M876.5,1001.9H884.5M967.2,1001.9V1009.9M1132.6,1001.9V1009.9M1298,1001.9V1009.9M1463.4,1001.9V1009.9M1628.8,1001.9V1009.9" stroke="#000" stroke-width="1.8" fill="none"/>
<text class="tk" x="832.9" y="611" textLength="37.6" lengthAdjust="spacingAndGlyphs">20S</text>
<text class="tk" x="832.9" y="711" textLength="37.6" lengthAdjust="spacingAndGlyphs">30S</text>
<text class="tk" x="832.9" y="811" textLength="37.6" lengthAdjust="spacingAndGlyphs">40S</text>
<text class="tk" x="832.9" y="911" textLength="37.6" lengthAdjust="spacingAndGlyphs">50S</text>
<text class="tk" x="832.9" y="1011" textLength="37.6" lengthAdjust="spacingAndGlyphs">60S</text>
<text class="tk" x="947.3" y="1031.5" textLength="41" lengthAdjust="spacingAndGlyphs">60W</text>
<text class="tk" x="1112.7" y="1031.5" textLength="41" lengthAdjust="spacingAndGlyphs">40W</text>
<text class="tk" x="1278.1" y="1031.5" textLength="41" lengthAdjust="spacingAndGlyphs">20W</text>
<text class="tk" x="1457.3" y="1031.5" textLength="13.4" lengthAdjust="spacingAndGlyphs">0</text>
<text class="tk" x="1610.4" y="1031.5" textLength="38" lengthAdjust="spacingAndGlyphs">20E</text>
<text class="ti" y="582.5" xml:space="preserve"><tspan x="1027.5" textLength="78.1" lengthAdjust="spacingAndGlyphs">8-yr</tspan> <tspan x="1125" textLength="86.7" lengthAdjust="spacingAndGlyphs">mean</tspan> <tspan x="1232.6" textLength="56.2" lengthAdjust="spacingAndGlyphs">SLP</tspan> <tspan x="1312.6" textLength="63.5" lengthAdjust="spacingAndGlyphs">stdv</tspan> <tspan x="1398.4" textLength="88.3" lengthAdjust="spacingAndGlyphs">(Obs)</tspan></text>
<text class="pl" x="882.3" y="588.3">(d)</text>
<path d="M936.8,1053L1016.9,1043.4V1062.6Z" fill="#ffffff" stroke="#1a1a1a" stroke-width="0.9" stroke-linejoin="miter"/>
<rect x="1016.9" y="1043.4" width="79.7" height="19.2" fill="#f2f3c8" stroke="#1a1a1a" stroke-width="0.9"/>
<rect x="1096.6" y="1043.4" width="79.7" height="19.2" fill="#f5c8a0" stroke="#1a1a1a" stroke-width="0.9"/>
<rect x="1176.3" y="1043.4" width="79.7" height="19.2" fill="#f0a078" stroke="#1a1a1a" stroke-width="0.9"/>
<rect x="1256" y="1043.4" width="79.7" height="19.2" fill="#f57864" stroke="#1a1a1a" stroke-width="0.9"/>
<rect x="1335.8" y="1043.4" width="79.7" height="19.2" fill="#f54b4b" stroke="#1a1a1a" stroke-width="0.9"/>
<rect x="1415.5" y="1043.4" width="79.7" height="19.2" fill="#f0233c" stroke="#1a1a1a" stroke-width="0.9"/>
<path d="M1574.9,1053L1495.2,1043.4V1062.6Z" fill="#f01414" stroke="#1a1a1a" stroke-width="0.9"/>
<text class="cb" x="1011.8" y="1079.7" textLength="10.9" lengthAdjust="spacingAndGlyphs">0</text>
<text class="cb" x="1083.3" y="1079.7" textLength="27.2" lengthAdjust="spacingAndGlyphs">0.1</text>
<text class="cb" x="1163" y="1079.7" textLength="27.2" lengthAdjust="spacingAndGlyphs">0.2</text>
<text class="cb" x="1242.8" y="1079.7" textLength="27.2" lengthAdjust="spacingAndGlyphs">0.3</text>
<text class="cb" x="1322.5" y="1079.7" textLength="27.2" lengthAdjust="spacingAndGlyphs">0.4</text>
<text class="cb" x="1402.2" y="1079.7" textLength="27.2" lengthAdjust="spacingAndGlyphs">0.5</text>
<text class="cb" x="1481.9" y="1079.7" textLength="27.2" lengthAdjust="spacingAndGlyphs">0.6</text>
<text class="un" x="1577.6" y="1082" textLength="57.6" lengthAdjust="spacingAndGlyphs">hPa</text>
</svg>
</body></html>
